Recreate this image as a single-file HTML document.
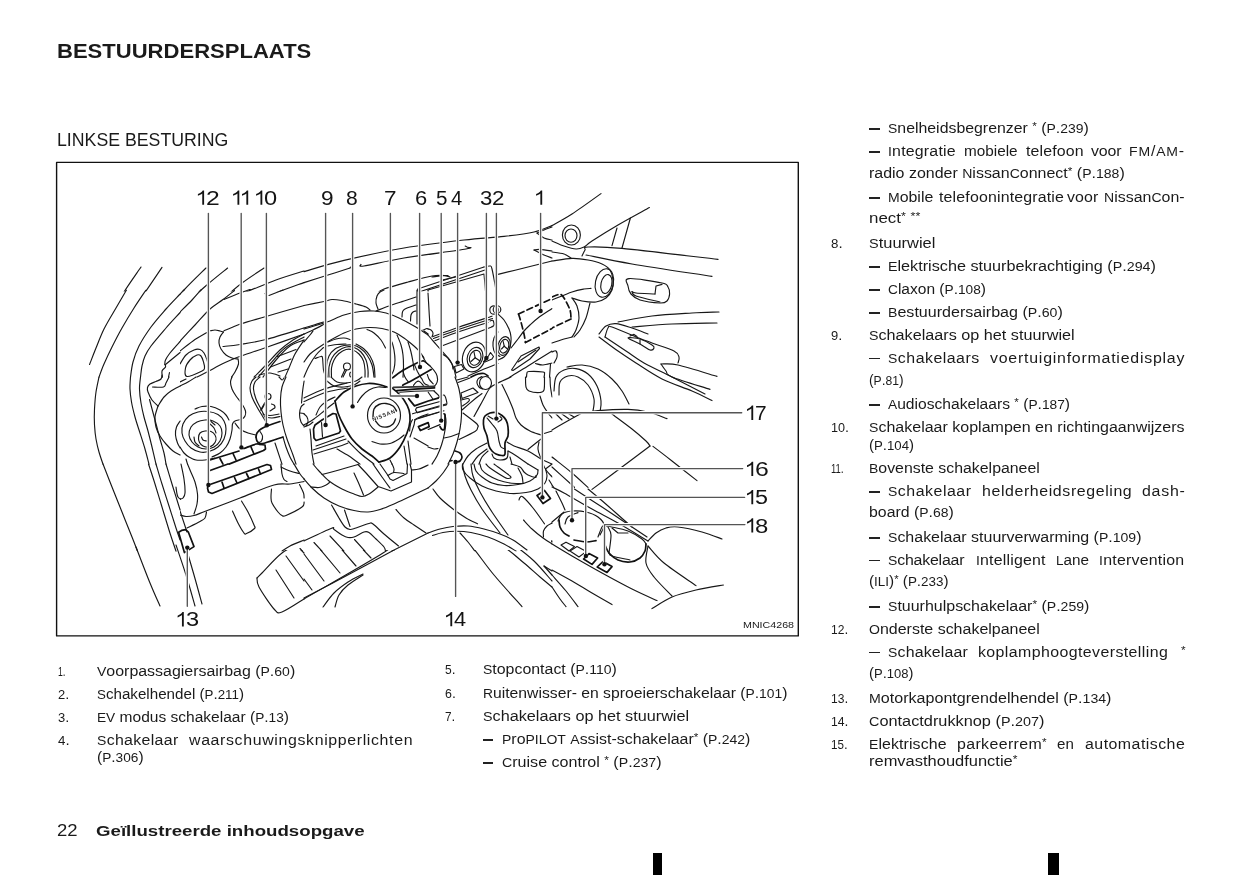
<!DOCTYPE html>
<html><head><meta charset="utf-8"><title>Bestuurdersplaats</title>
<style>
html,body{margin:0;padding:0;background:#fff}
body{width:1241px;height:875px;position:relative;overflow:hidden;font-family:"Liberation Sans", sans-serif;color:#1a1a1a}
.t{position:absolute;white-space:pre;line-height:1;transform-origin:0 0}
.a{font-size:.74em;position:relative;top:-.26em}
.c{font-size:.88em}
.d{position:absolute;width:10.6px;height:1.25px;background:#222}
.mk{position:absolute;background:#000}
#art{position:absolute;left:0;top:0}
#w{position:absolute;left:0;top:0;width:1241px;height:875px;will-change:transform}
</style></head><body>
<svg id="art" width="1241" height="875" viewBox="0 0 1241 875" stroke-linecap="round" stroke-linejoin="round">
<defs>
<clipPath id="ct"><path d="M57,163H798V635.5H552V291.5H57Z"/></clipPath>
<clipPath id="co"><path clip-rule="evenodd" d="M57,289.5H798V635.5H57Z M181,289.5V550H551V289.5Z"/></clipPath>
<clipPath id="cc"><rect x="180" y="289" width="372.5" height="262.5"/></clipPath>
</defs>
<g clip-path="url(#ct)">
<path d="M141.0,267.0 C138.2,271.2 129.2,283.8 124.0,292.0 C118.8,300.2 113.9,308.5 110.0,316.0 C106.1,323.5 102.0,333.5 100.4,337.0" fill="none" stroke="#181818" stroke-width="1.15"/>
<path d="M162.0,267.4 C159.0,271.8 149.7,285.6 144.0,294.0 C138.3,302.4 132.7,310.8 128.0,318.0 C123.3,325.2 118.0,333.8 116.0,337.0" fill="none" stroke="#181818" stroke-width="1.15"/>
<path d="M206.0,268.0 C202.3,271.7 191.3,282.3 184.0,290.0 C176.7,297.7 168.5,306.2 162.0,314.0 C155.5,321.8 147.8,333.2 145.0,337.0" fill="none" stroke="#181818" stroke-width="1.15"/>
<path d="M227.6,268.0 C224.3,270.7 215.3,277.7 208.0,284.0 C200.7,290.3 190.7,299.3 184.0,306.0 C177.3,312.7 172.3,318.8 168.0,324.0 C163.7,329.2 159.7,334.8 158.0,337.0" fill="none" stroke="#181818" stroke-width="1.15"/>
<path d="M264.0,268.0 C260.3,270.5 248.7,278.0 242.0,283.0 C235.3,288.0 229.0,294.0 224.0,298.0 C219.0,302.0 216.7,303.0 212.0,307.0 C207.3,311.0 200.7,317.0 196.0,322.0 C191.3,327.0 186.0,334.5 184.0,337.0" fill="none" stroke="#181818" stroke-width="1.15"/>
<path d="M223.6,299.6 C227.3,298.3 237.3,295.3 246.0,292.0 C254.7,288.7 266.3,283.5 276.0,280.0 C285.7,276.5 299.3,272.5 304.0,271.0" fill="none" stroke="#181818" stroke-width="1.15"/>
<path d="M265.0,294.0 L268.4,295.6" fill="none" stroke="#181818" stroke-width="1.15"/>
<path d="M268.4,295.6 C271.3,294.5 280.1,291.2 286.0,289.0 C291.9,286.8 301.0,283.7 304.0,282.6" fill="none" stroke="#181818" stroke-width="1.15"/>
<path d="M304.0,271.6 C310.7,269.7 327.3,264.3 344.0,260.4 C360.7,256.5 384.0,251.4 404.0,248.0 C424.0,244.6 447.3,241.9 464.0,240.0 C480.7,238.1 492.3,237.7 504.0,236.4 C515.7,235.1 526.0,233.8 534.0,232.0 C542.0,230.2 549.0,226.7 552.0,225.6" fill="none" stroke="#181818" stroke-width="1.15"/>
<path d="M304.0,282.6 C308.0,281.3 320.3,277.4 328.0,275.0 C335.7,272.6 346.3,269.2 350.0,268.0" fill="none" stroke="#181818" stroke-width="1.15"/>
<path d="M350.0,268.0 L351.0,266.8" fill="none" stroke="#181818" stroke-width="1.15"/>
<path d="M361.0,264.4 C361.5,264.7 356.8,267.1 364.0,266.0 C371.2,264.9 387.0,260.8 404.0,258.0 C421.0,255.2 455.5,250.8 466.0,249.0 C476.5,247.2 467.3,247.7 467.2,247.2 C467.1,246.7 465.5,246.2 465.2,246.0" fill="none" stroke="#181818" stroke-width="1.15"/>
<path d="M378.0,309.0 C377.7,307.5 376.0,302.7 376.0,300.0 C376.0,297.3 376.7,294.8 378.0,293.0 C379.3,291.2 379.0,290.8 384.0,289.0 C389.0,287.2 400.0,284.2 408.0,282.0 C416.0,279.8 425.3,277.1 432.0,276.0 C438.7,274.9 445.3,275.7 448.0,275.6" fill="none" stroke="#181818" stroke-width="1.15"/>
<path d="M417.0,328.0 L417.6,289.0 L484.0,267.0" fill="none" stroke="#181818" stroke-width="1.15"/>
<path d="M484.0,267.0 C485.0,266.8 488.7,265.7 490.0,266.0 C491.3,266.3 491.0,265.0 492.0,269.0 C493.0,273.0 494.8,283.3 496.0,290.0 C497.2,296.7 498.5,305.8 499.0,309.0" fill="none" stroke="#181818" stroke-width="1.15"/>
<path d="M419.0,292.0 L485.0,270.0" fill="none" stroke="#181818" stroke-width="1.15"/>
<path d="M428.0,290.0 L484.0,274.0 L487.0,308.0" fill="none" stroke="#181818" stroke-width="1.15"/>
<path d="M428.0,290.0 L431.0,327.0" fill="none" stroke="#181818" stroke-width="1.15"/>
<path d="M498.0,274.4 C502.3,273.3 515.0,270.2 524.0,268.0 C533.0,265.8 547.3,262.2 552.0,261.0" fill="none" stroke="#181818" stroke-width="1.15"/>
<path d="M534.0,250.0 C535.7,250.8 541.0,253.7 544.0,255.0 C547.0,256.3 550.7,257.5 552.0,258.0" fill="none" stroke="#181818" stroke-width="1.15"/>
<path d="M534.0,250.0 C535.0,249.9 537.0,249.2 540.0,249.4 C543.0,249.6 550.0,250.7 552.0,251.0" fill="none" stroke="#181818" stroke-width="1.15"/>
<path d="M537.0,233.0 C538.2,232.5 541.5,231.0 544.0,230.0 C546.5,229.0 550.7,227.5 552.0,227.0" fill="none" stroke="#181818" stroke-width="1.15"/>
<path d="M537.0,233.0 C538.2,233.8 541.5,236.8 544.0,238.0 C546.5,239.2 550.7,239.7 552.0,240.0" fill="none" stroke="#181818" stroke-width="1.15"/>
<path d="M432.0,277.0 C434.0,276.8 441.0,275.6 444.0,275.6 C447.0,275.6 449.0,276.8 450.0,277.0" fill="none" stroke="#181818" stroke-width="1.15"/>
<path d="M442.0,280.0 L456.0,277.0" fill="none" stroke="#181818" stroke-width="1.15"/>
<path d="M552.0,225.6 C555.3,223.7 563.8,219.3 572.0,214.0 C580.2,208.7 596.2,197.0 601.0,193.6" fill="none" stroke="#181818" stroke-width="1.15"/>
<path d="M552.0,241.0 C554.0,241.8 560.0,244.7 564.0,246.0 C568.0,247.3 572.7,248.8 576.0,249.0 C579.3,249.2 581.3,248.3 584.0,247.0 C586.7,245.7 586.3,244.7 592.0,241.0 C597.7,237.3 608.4,230.6 618.0,225.0 C627.6,219.4 644.2,210.5 649.4,207.6" fill="none" stroke="#181818" stroke-width="1.15"/>
<ellipse cx="571.4" cy="235.0" rx="9.0" ry="10.0" fill="none" stroke="#181818" stroke-width="1.15"/>
<ellipse cx="571.0" cy="235.6" rx="6.0" ry="6.6" fill="none" stroke="#181818" stroke-width="1.15"/>
<path d="M612.0,245.6 L617.0,228.0" fill="none" stroke="#181818" stroke-width="1.15"/>
<path d="M622.0,248.0 L630.4,218.0" fill="none" stroke="#181818" stroke-width="1.15"/>
<path d="M582.0,256.0 C582.5,255.0 584.0,251.5 585.0,250.0 C586.0,248.5 581.8,247.3 588.0,247.0 C594.2,246.7 600.3,246.3 622.0,248.4 C643.7,250.5 702.0,257.6 718.0,259.4" fill="none" stroke="#181818" stroke-width="1.15"/>
<path d="M586.0,255.0 C593.7,256.5 611.0,260.4 632.0,264.0 C653.0,267.6 698.7,274.3 712.0,276.4" fill="none" stroke="#181818" stroke-width="1.15"/>
<path d="M552.0,252.0 C554.0,252.3 560.8,253.0 564.0,254.0 C567.2,255.0 569.8,257.3 571.0,258.0" fill="none" stroke="#181818" stroke-width="1.15"/>
<path d="M552.0,261.0 C555.3,260.6 566.0,258.6 572.0,258.4 C578.0,258.2 583.0,259.1 588.0,260.0 C593.0,260.9 598.3,262.3 602.0,264.0 C605.7,265.7 608.2,267.3 610.0,270.0 C611.8,272.7 612.7,276.7 613.0,280.0 C613.3,283.3 613.2,287.0 612.0,290.0 C610.8,293.0 608.7,296.0 606.0,298.0 C603.3,300.0 600.0,301.5 596.0,302.0 C592.0,302.5 586.0,301.7 582.0,301.0 C578.0,300.3 573.7,298.5 572.0,298.0" fill="none" stroke="#181818" stroke-width="1.15"/>
<path d="M552.0,300.0 C555.3,298.7 566.7,293.8 572.0,292.0 C577.3,290.2 580.8,289.6 584.0,289.0 C587.2,288.4 589.8,288.5 591.0,288.4" fill="none" stroke="#181818" stroke-width="1.15"/>
<ellipse cx="604.4" cy="283.0" rx="9.0" ry="14.4" fill="none" stroke="#181818" stroke-width="1.15" transform="rotate(12 604.4 283.0)"/>
<ellipse cx="606.4" cy="284.0" rx="5.4" ry="9.6" fill="none" stroke="#181818" stroke-width="1.15" transform="rotate(12 606.4 284.0)"/>
<path d="M629.0,278.6 C634.7,278.1 655.5,281.6 662.0,283.0 C668.5,284.4 666.7,285.2 668.0,287.0 C669.3,288.8 669.8,291.7 669.6,294.0 C669.4,296.3 668.6,299.5 667.0,301.0 C665.4,302.5 664.5,303.2 660.0,303.0 C655.5,302.8 644.8,301.5 640.0,300.0 C635.2,298.5 633.0,296.3 631.0,294.0 C629.0,291.7 628.3,288.6 628.0,286.0 C627.7,283.4 623.3,279.1 629.0,278.6Z" fill="none" stroke="#181818" stroke-width="1.15"/>
<path d="M632.0,291.6 C632.7,291.8 632.2,292.6 636.0,293.0 C639.8,293.4 651.8,293.8 655.0,294.0" fill="none" stroke="#181818" stroke-width="1.15"/>
<path d="M655.0,294.0 L656.0,286.0 L662.0,284.4" fill="none" stroke="#181818" stroke-width="1.15"/>
<path d="M632.0,291.6 C632.7,292.3 631.3,294.3 636.0,296.0 C640.7,297.7 656.0,301.0 660.0,302.0" fill="none" stroke="#181818" stroke-width="1.15"/>
<path d="M552.0,297.0 C553.3,296.6 558.0,294.2 560.0,294.4 C562.0,294.6 562.3,295.4 564.0,298.0 C565.7,300.6 568.8,306.5 570.0,310.0 C571.2,313.5 570.8,317.5 571.0,319.0" fill="none" stroke="#111" stroke-width="1.7" stroke-dasharray="6 3.4"/>
<path d="M571.0,319.0 L552.0,328.0" fill="none" stroke="#111" stroke-width="1.7" stroke-dasharray="6 3.4"/>
<path d="M572.0,298.0 C572.8,299.3 575.8,302.7 577.0,306.0 C578.2,309.3 579.2,314.0 579.0,318.0 C578.8,322.0 577.2,326.8 576.0,330.0 C574.8,333.2 572.7,335.8 572.0,337.0" fill="none" stroke="#181818" stroke-width="1.15"/>
<path d="M590.0,303.0 C589.3,305.5 587.7,313.5 586.0,318.0 C584.3,322.5 582.0,326.8 580.0,330.0 C578.0,333.2 575.0,335.8 574.0,337.0" fill="none" stroke="#181818" stroke-width="1.15"/>
<path d="M618.0,322.0 C623.7,321.0 639.7,317.5 652.0,316.0 C664.3,314.5 680.8,313.7 692.0,313.0 C703.2,312.3 714.5,312.2 719.0,312.0" fill="none" stroke="#181818" stroke-width="1.15"/>
<path d="M632.0,327.0 C638.7,326.5 657.8,324.7 672.0,324.0 C686.2,323.3 709.5,323.2 717.0,323.0" fill="none" stroke="#181818" stroke-width="1.15"/>
<path d="M599.0,334.0 C600.2,332.7 603.2,327.7 606.0,326.0 C608.8,324.3 611.7,323.3 616.0,323.6 C620.3,323.9 626.7,326.3 632.0,328.0 C637.3,329.7 645.3,333.0 648.0,334.0" fill="none" stroke="#181818" stroke-width="1.15"/>
<path d="M605.0,337.0 C605.5,335.5 606.8,329.7 608.0,328.0 C609.2,326.3 607.3,325.5 612.0,327.0 C616.7,328.5 632.0,335.3 636.0,337.0" fill="none" stroke="#181818" stroke-width="1.15"/>
<path d="M630.0,336.0 L634.0,334.4 L637.0,336.4" fill="none" stroke="#181818" stroke-width="1.15"/>
</g>
<g clip-path="url(#co)">
<path d="M599.0,337.0 C602.2,339.3 611.8,346.7 618.0,351.0 C624.2,355.3 628.7,358.3 636.0,363.0 C643.3,367.7 652.7,374.3 662.0,379.0 C671.3,383.7 683.7,387.4 692.0,391.0 C700.3,394.6 708.7,399.0 712.0,400.6" fill="none" stroke="#181818" stroke-width="1.15"/>
<path d="M605.0,337.0 C608.5,339.3 619.5,346.7 626.0,351.0 C632.5,355.3 636.3,358.7 644.0,363.0 C651.7,367.3 661.8,371.8 672.0,377.0 C682.2,382.2 699.5,391.2 705.0,394.0" fill="none" stroke="#181818" stroke-width="1.15"/>
<path d="M636.0,337.0 C638.7,338.0 645.7,340.7 652.0,343.0 C658.3,345.3 669.5,348.7 674.0,351.0 C678.5,353.3 678.3,355.0 679.0,357.0 C679.7,359.0 678.2,362.0 678.0,363.0" fill="none" stroke="#181818" stroke-width="1.15"/>
<path d="M628.0,338.0 C628.0,338.8 636.3,342.0 640.0,344.0 C643.7,346.0 647.7,349.3 650.0,350.0 C652.3,350.7 653.7,348.8 654.0,348.0 C654.3,347.2 654.3,346.5 652.0,345.0 C649.7,343.5 644.0,340.2 640.0,339.0 C636.0,337.8 628.0,337.2 628.0,338.0Z" fill="none" stroke="#181818" stroke-width="1.15"/>
<path d="M640.0,340.0 L640.0,344.0" fill="none" stroke="#181818" stroke-width="1.15"/>
<path d="M661.0,364.0 C663.8,364.2 668.7,362.9 678.0,365.0 C687.3,367.1 710.5,374.5 717.0,376.4" fill="none" stroke="#181818" stroke-width="1.15"/>
<path d="M661.0,364.0 C661.8,365.2 664.2,368.8 666.0,371.0 C667.8,373.2 664.7,373.9 672.0,377.0 C679.3,380.1 703.7,387.3 710.0,389.4" fill="none" stroke="#181818" stroke-width="1.15"/>
<path d="M567.0,367.0 C569.5,366.7 576.8,364.7 582.0,365.0 C587.2,365.3 593.0,366.7 598.0,369.0 C603.0,371.3 608.0,375.3 612.0,379.0 C616.0,382.7 619.2,386.8 622.0,391.0 C624.8,395.2 627.8,401.8 629.0,404.0" fill="none" stroke="#181818" stroke-width="1.15"/>
<path d="M554.0,391.0 C554.3,388.7 554.3,380.5 556.0,377.0 C557.7,373.5 560.7,371.4 564.0,370.0 C567.3,368.6 572.0,367.9 576.0,368.6 C580.0,369.3 584.5,371.1 588.0,374.0 C591.5,376.9 594.8,381.5 597.0,386.0 C599.2,390.5 600.5,396.7 601.0,401.0 C601.5,405.3 600.2,410.2 600.0,412.0" fill="none" stroke="#181818" stroke-width="1.15"/>
<path d="M559.0,395.0 C559.2,392.8 558.5,385.2 560.0,382.0 C561.5,378.8 565.0,376.8 568.0,376.0 C571.0,375.2 574.7,375.5 578.0,377.0 C581.3,378.5 585.3,381.3 588.0,385.0 C590.7,388.7 593.2,394.7 594.0,399.0 C594.8,403.3 593.2,409.0 593.0,411.0" fill="none" stroke="#181818" stroke-width="1.15"/>
<path d="M552.0,413.0 C557.0,413.0 574.3,413.4 582.0,413.0 C589.7,412.6 590.3,411.2 598.0,410.6 C605.7,410.0 619.7,409.2 628.0,409.4 C636.3,409.6 641.5,410.5 648.0,412.0 C654.5,413.5 663.8,417.5 667.0,418.6" fill="none" stroke="#181818" stroke-width="1.15"/>
<path d="M582.0,413.0 C579.0,414.7 569.0,420.2 564.0,423.0 C559.0,425.8 554.0,428.8 552.0,430.0" fill="none" stroke="#181818" stroke-width="1.15"/>
<path d="M612.0,414.0 C615.3,416.5 626.3,424.5 632.0,429.0 C637.7,433.5 643.0,438.2 646.0,441.0 C649.0,443.8 649.3,445.2 650.0,446.0" fill="none" stroke="#181818" stroke-width="1.15"/>
<path d="M653.0,446.4 C656.2,448.8 664.7,455.3 672.0,461.0 C679.3,466.7 692.8,477.3 697.0,480.6" fill="none" stroke="#181818" stroke-width="1.15"/>
<path d="M650.0,446.0 C645.3,449.5 631.7,459.8 622.0,467.0 C612.3,474.2 597.0,485.7 592.0,489.4" fill="none" stroke="#181818" stroke-width="1.15"/>
<path d="M552.0,457.0 C555.3,459.7 566.0,467.9 572.0,473.0 C578.0,478.1 585.3,485.0 588.0,487.4" fill="none" stroke="#181818" stroke-width="1.15"/>
<path d="M552.0,467.0 C555.3,470.0 568.3,481.6 572.0,485.0 C575.7,488.4 574.0,487.0 574.4,487.4" fill="none" stroke="#181818" stroke-width="1.15"/>
<path d="M552.0,485.0 L553.6,487.4" fill="none" stroke="#181818" stroke-width="1.15"/>
<path d="M552.0,352.0 C552.7,351.8 555.2,350.2 556.0,351.0 C556.8,351.8 557.3,355.0 557.0,357.0 C556.7,359.0 554.5,362.0 554.0,363.0" fill="none" stroke="#181818" stroke-width="1.15"/>
<path d="M552.0,343.0 C554.0,342.3 560.7,340.0 564.0,339.0 C567.3,338.0 570.7,337.3 572.0,337.0" fill="none" stroke="#181818" stroke-width="1.15"/>
<path d="M556.0,414.0 L562.0,420.0" fill="none" stroke="#181818" stroke-width="1.15"/>
<path d="M562.0,414.0 L569.0,419.0" fill="none" stroke="#181818" stroke-width="1.15"/>
<path d="M569.0,414.0 L574.0,417.0" fill="none" stroke="#181818" stroke-width="1.15"/>
<path d="M136.0,547.0 C138.3,553.0 146.0,573.2 150.0,583.0 C154.0,592.8 158.3,602.2 160.0,606.0" fill="none" stroke="#181818" stroke-width="1.15"/>
<path d="M176.0,545.0 C177.7,550.0 182.8,564.8 186.0,575.0 C189.2,585.2 193.5,600.8 195.0,606.0" fill="none" stroke="#181818" stroke-width="1.15"/>
<path d="M184.0,541.0 C185.7,546.7 191.0,564.5 194.0,575.0 C197.0,585.5 200.7,599.2 202.0,604.0" fill="none" stroke="#181818" stroke-width="1.15"/>
<path d="M186.0,527.0 C189.3,525.3 194.3,522.3 206.0,517.0 C217.7,511.7 245.0,499.8 256.0,495.0 C267.0,490.2 269.3,489.2 272.0,488.0" fill="none" stroke="#181818" stroke-width="1.15"/>
<path d="M196.0,487.0 C196.0,489.7 196.7,498.7 196.0,503.0 C195.3,507.3 194.0,510.7 192.0,513.0 C190.0,515.3 185.3,516.3 184.0,517.0" fill="none" stroke="#181818" stroke-width="1.15"/>
<path d="M184.0,517.0 C186.0,517.2 192.7,518.3 196.0,518.0 C199.3,517.7 202.5,516.2 204.0,515.0 C205.5,513.8 204.8,511.7 205.0,511.0" fill="none" stroke="#181818" stroke-width="1.15"/>
<path d="M176.0,487.0 C176.3,488.7 176.7,495.0 178.0,497.0 C179.3,499.0 182.7,500.7 184.0,499.0 C185.3,497.3 185.7,489.0 186.0,487.0" fill="none" stroke="#181818" stroke-width="1.15"/>
<path d="M233.0,511.0 C234.8,514.5 241.5,528.3 244.0,532.0 C246.5,535.7 246.2,534.4 248.0,533.4 C249.8,532.4 256.0,531.4 255.0,526.0 C254.0,520.6 244.2,505.2 242.0,501.0" fill="none" stroke="#181818" stroke-width="1.15"/>
<path d="M271.0,487.0 C271.2,489.0 270.2,494.7 272.0,499.0 C273.8,503.3 279.0,510.3 282.0,513.0 C285.0,515.7 286.3,516.0 290.0,515.0 C293.7,514.0 301.7,508.3 304.0,507.0" fill="none" stroke="#181818" stroke-width="1.15"/>
<path d="M257.0,578.0 C257.8,577.2 257.8,577.2 262.0,573.0 C266.2,568.8 275.0,558.3 282.0,553.0 C289.0,547.7 300.3,543.0 304.0,541.0" fill="none" stroke="#181818" stroke-width="1.15"/>
<path d="M257.0,578.0 C257.3,579.5 256.2,581.8 259.0,587.0 C261.8,592.2 270.2,604.8 274.0,609.0 C277.8,613.2 277.0,613.7 282.0,612.0 C287.0,610.3 300.3,601.2 304.0,599.0" fill="none" stroke="#181818" stroke-width="1.15"/>
<path d="M276.0,570.0 L294.0,598.0" fill="none" stroke="#181818" stroke-width="1.15"/>
<path d="M286.0,556.0 L304.0,581.0" fill="none" stroke="#181818" stroke-width="1.15"/>
<path d="M299.0,548.0 L304.0,553.0" fill="none" stroke="#181818" stroke-width="1.15"/>
<path d="M304.0,541.0 C308.7,538.9 326.3,529.9 332.0,528.6 C337.7,527.3 335.3,531.7 338.0,533.4 C340.7,535.1 343.7,538.9 348.0,538.6 C352.3,538.3 359.3,532.1 364.0,531.8 C368.7,531.5 372.5,534.5 376.0,537.0 C379.5,539.5 383.8,544.3 385.0,547.0 C386.2,549.7 396.5,544.3 383.0,553.0 C369.5,561.7 317.2,591.3 304.0,599.0" fill="none" stroke="#181818" stroke-width="1.15"/>
<path d="M338.0,534.0 C339.0,533.0 339.0,529.8 344.0,528.0 C349.0,526.2 363.0,523.5 368.0,523.0 C373.0,522.5 369.0,521.2 374.0,525.0 C379.0,528.8 394.0,542.5 398.0,546.0" fill="none" stroke="#181818" stroke-width="1.15"/>
<path d="M304.0,554.0 L324.0,581.0" fill="none" stroke="#181818" stroke-width="1.15"/>
<path d="M314.0,542.0 L340.0,573.0" fill="none" stroke="#181818" stroke-width="1.15"/>
<path d="M330.0,536.0 L356.0,566.0" fill="none" stroke="#181818" stroke-width="1.15"/>
<path d="M354.0,540.0 L371.0,558.0" fill="none" stroke="#181818" stroke-width="1.15"/>
<path d="M304.0,579.0 L312.0,590.0" fill="none" stroke="#181818" stroke-width="1.15"/>
<path d="M304.0,598.0 C310.7,594.5 329.3,584.8 344.0,577.0 C358.7,569.2 378.9,558.2 392.2,551.0 C405.5,543.8 415.4,538.0 424.0,534.0 C432.6,530.0 438.0,528.3 444.0,527.0 C450.0,525.7 454.0,525.7 460.0,526.0 C466.0,526.3 474.0,527.7 480.0,529.0 C486.0,530.3 490.3,531.3 496.0,534.0 C501.7,536.7 507.7,540.5 514.0,545.0 C520.3,549.5 527.7,555.0 534.0,561.0 C540.3,567.0 549.0,577.7 552.0,581.0" fill="none" stroke="#181818" stroke-width="1.15"/>
<path d="M432.0,535.0 C434.7,534.3 442.7,531.5 448.0,531.0 C453.3,530.5 458.0,531.0 464.0,532.0 C470.0,533.0 477.3,534.5 484.0,537.0 C490.7,539.5 497.3,542.7 504.0,547.0 C510.7,551.3 518.0,558.0 524.0,563.0 C530.0,568.0 535.3,573.0 540.0,577.0 C544.7,581.0 550.0,585.3 552.0,587.0" fill="none" stroke="#181818" stroke-width="1.15"/>
<path d="M460.0,533.0 C462.3,535.7 468.3,542.0 474.0,549.0 C479.7,556.0 486.0,565.4 494.0,575.0 C502.0,584.6 517.3,601.3 522.0,606.6" fill="none" stroke="#181818" stroke-width="1.15"/>
<path d="M323.0,607.0 C324.8,604.7 329.8,597.2 334.0,593.0 C338.2,588.8 343.2,585.2 348.0,582.0 C352.8,578.8 360.5,575.3 363.0,574.0" fill="none" stroke="#181818" stroke-width="1.15"/>
<path d="M335.0,607.0 C335.7,605.0 336.8,598.7 339.0,595.0 C341.2,591.3 344.0,588.3 348.0,585.0 C352.0,581.7 360.5,576.7 363.0,575.0" fill="none" stroke="#181818" stroke-width="1.15"/>
<path d="M470.0,487.0 C472.3,490.7 478.8,501.3 484.0,509.0 C489.2,516.7 498.2,529.0 501.0,533.0" fill="none" stroke="#181818" stroke-width="1.15"/>
<path d="M476.0,487.0 C478.3,491.0 484.8,503.0 490.0,511.0 C495.2,519.0 504.2,531.0 507.0,535.0" fill="none" stroke="#181818" stroke-width="1.15"/>
<path d="M519.0,499.0 C519.5,498.5 520.2,495.3 522.0,496.0 C523.8,496.7 526.3,498.3 530.0,503.0 C533.7,507.7 541.7,520.5 544.0,524.0" fill="none" stroke="#181818" stroke-width="1.15"/>
<path d="M523.0,520.0 C524.5,521.2 528.5,524.2 532.0,527.0 C535.5,529.8 540.7,534.5 544.0,537.0 C547.3,539.5 550.7,541.2 552.0,542.0" fill="none" stroke="#181818" stroke-width="1.15"/>
<path d="M552.0,523.0 C551.0,523.7 547.3,525.3 546.0,527.0 C544.7,528.7 543.8,531.0 544.0,533.0 C544.2,535.0 545.7,537.7 547.0,539.0 C548.3,540.3 551.2,540.7 552.0,541.0" fill="none" stroke="#181818" stroke-width="1.15"/>
<path d="M544.0,566.0 L552.0,571.0" fill="none" stroke="#181818" stroke-width="1.15"/>
<path d="M544.0,566.0 L552.0,575.0" fill="none" stroke="#181818" stroke-width="1.15"/>
<path d="M559.0,520.0 C559.2,521.2 559.2,524.8 560.0,527.0 C560.8,529.2 562.5,531.5 564.0,533.0 C565.5,534.5 568.2,535.5 569.0,536.0" fill="none" stroke="#111" stroke-width="1.7"/>
<path d="M574.0,540.0 C576.0,540.3 582.3,541.9 586.0,542.0 C589.7,542.1 594.3,540.8 596.0,540.6" fill="none" stroke="#111" stroke-width="1.7"/>
<path d="M558.0,521.0 C558.7,519.8 559.7,515.7 562.0,514.0 C564.3,512.3 568.0,511.3 572.0,511.0 C576.0,510.7 581.7,511.0 586.0,512.0 C590.3,513.0 595.0,514.8 598.0,517.0 C601.0,519.2 603.7,522.0 604.0,525.0 C604.3,528.0 600.7,533.3 600.0,535.0" fill="none" stroke="#181818" stroke-width="1.15"/>
<path d="M565.0,524.0 C565.5,522.8 565.8,518.9 568.0,517.0 C570.2,515.1 576.3,513.3 578.0,512.6" fill="none" stroke="#181818" stroke-width="1.15"/>
<path d="M605.0,526.0 C606.2,526.2 608.2,526.2 612.0,527.0 C615.8,527.8 623.0,529.0 628.0,531.0 C633.0,533.0 639.0,536.8 642.0,539.0 C645.0,541.2 645.3,543.2 646.0,544.0" fill="none" stroke="#181818" stroke-width="1.15"/>
<path d="M646.0,544.0 C645.8,545.2 646.0,548.7 645.0,551.0 C644.0,553.3 642.5,556.2 640.0,558.0 C637.5,559.8 633.7,561.7 630.0,562.0 C626.3,562.3 621.5,561.5 618.0,560.0 C614.5,558.5 611.2,555.5 609.0,553.0 C606.8,550.5 605.7,546.3 605.0,545.0" fill="none" stroke="#111" stroke-width="1.7"/>
<path d="M609.0,553.0 C609.5,553.5 608.5,554.8 612.0,556.0 C615.5,557.2 627.0,559.3 630.0,560.0" fill="none" stroke="#181818" stroke-width="1.15"/>
<path d="M561.0,545.0 L566.0,542.2 L574.4,546.6 L569.0,551.0Z" fill="none" stroke="#181818" stroke-width="1.15"/>
<path d="M570.0,551.0 L577.0,546.6 L586.4,551.4 L579.0,557.0Z" fill="none" stroke="#181818" stroke-width="1.15"/>
<path d="M583.6,559.0 L589.0,553.6 L597.6,558.0 L592.0,564.4Z" fill="none" stroke="#111" stroke-width="1.7"/>
<path d="M597.2,567.0 L603.0,561.6 L612.0,566.6 L607.0,572.4Z" fill="none" stroke="#111" stroke-width="1.7"/>
<path d="M552.0,544.0 C555.3,546.0 563.7,551.2 572.0,556.0 C580.3,560.8 592.0,567.5 602.0,573.0 C612.0,578.5 622.8,584.4 632.0,589.0 C641.2,593.6 652.8,598.7 657.0,600.6" fill="none" stroke="#181818" stroke-width="1.15"/>
<path d="M552.0,522.0 C553.0,521.2 556.0,518.7 558.0,517.0 C560.0,515.3 563.0,512.8 564.0,512.0" fill="none" stroke="#181818" stroke-width="1.15"/>
<path d="M552.0,570.0 C555.3,571.8 565.3,577.2 572.0,581.0 C578.7,584.8 585.3,589.1 592.0,593.0 C598.7,596.9 608.7,602.7 612.0,604.6" fill="none" stroke="#181818" stroke-width="1.15"/>
<path d="M552.0,575.0 C554.3,577.7 561.7,585.7 566.0,591.0 C570.3,596.3 576.0,604.0 578.0,606.6" fill="none" stroke="#181818" stroke-width="1.15"/>
<path d="M552.0,587.0 C553.3,589.0 557.7,595.7 560.0,599.0 C562.3,602.3 565.0,605.3 566.0,606.6" fill="none" stroke="#181818" stroke-width="1.15"/>
<path d="M652.0,608.6 C655.3,606.7 664.7,600.1 672.0,597.0 C679.3,593.9 687.4,592.0 696.0,590.0 C704.6,588.0 718.8,585.8 723.4,585.0" fill="none" stroke="#181818" stroke-width="1.15"/>
<path d="M648.0,546.0 C647.7,548.8 645.0,557.8 646.0,563.0 C647.0,568.2 649.7,571.5 654.0,577.0 C658.3,582.5 669.0,592.8 672.0,596.0" fill="none" stroke="#181818" stroke-width="1.15"/>
<path d="M648.0,546.0 C650.7,548.8 656.0,556.4 664.0,563.0 C672.0,569.6 690.7,581.8 696.0,585.6" fill="none" stroke="#181818" stroke-width="1.15"/>
<path d="M648.0,541.0 C649.3,539.7 653.0,535.2 656.0,533.0 C659.0,530.8 662.3,529.0 666.0,528.0 C669.7,527.0 672.0,526.3 678.0,527.0 C684.0,527.7 694.7,530.0 702.0,532.0 C709.3,534.0 718.7,537.8 722.0,539.0" fill="none" stroke="#181818" stroke-width="1.15"/>
<path d="M552.0,487.0 C554.0,488.0 557.3,489.3 564.0,493.0 C570.7,496.7 583.0,504.0 592.0,509.0 C601.0,514.0 608.7,517.7 618.0,523.0 C627.3,528.3 643.0,538.0 648.0,541.0" fill="none" stroke="#181818" stroke-width="1.15"/>
<path d="M574.4,489.0 C579.0,492.0 592.4,500.7 602.0,507.0 C611.6,513.3 624.5,522.0 632.0,527.0 C639.5,532.0 644.5,535.3 647.0,537.0" fill="none" stroke="#181818" stroke-width="1.15"/>
<path d="M588.0,489.0 C590.0,490.7 595.3,495.0 600.0,499.0 C604.7,503.0 610.7,508.3 616.0,513.0 C621.3,517.7 629.3,524.7 632.0,527.0" fill="none" stroke="#181818" stroke-width="1.15"/>
<path d="M598.0,537.0 C598.7,535.3 600.8,529.0 602.0,527.0 C603.2,525.0 604.5,525.3 605.0,525.0" fill="none" stroke="#181818" stroke-width="1.15"/>
<path d="M609.0,553.0 C609.3,550.0 611.2,539.3 611.0,535.0 C610.8,530.7 608.5,528.3 608.0,527.0" fill="none" stroke="#181818" stroke-width="1.15"/>
<path d="M556.0,491.0 C557.0,493.0 560.5,499.8 562.0,503.0 C563.5,506.2 564.5,508.8 565.0,510.0" fill="none" stroke="#181818" stroke-width="1.15"/>
<path d="M612.0,528.0 L618.0,533.0 L628.0,533.0" fill="none" stroke="#181818" stroke-width="1.15"/>
<path d="M126.5,290.0 C124.8,293.0 119.8,301.5 116.0,308.0 C112.2,314.5 107.3,322.3 104.0,329.0 C100.7,335.7 98.4,342.1 96.0,348.0 C93.6,353.9 90.6,361.8 89.5,364.5" fill="none" stroke="#181818" stroke-width="1.15"/>
<path d="M146.0,290.0 C144.0,293.0 138.0,301.7 134.0,308.0 C130.0,314.3 125.7,321.5 122.0,328.0 C118.3,334.5 115.0,341.0 112.0,347.0 C109.0,353.0 106.2,359.0 104.0,364.0 C101.8,369.0 99.8,374.9 99.0,377.1" fill="none" stroke="#181818" stroke-width="1.15"/>
<path d="M180.1,294.0 C177.8,296.5 170.8,303.5 166.0,309.0 C161.2,314.5 155.5,320.8 151.0,327.0 C146.5,333.2 142.0,340.2 139.0,346.0 C136.0,351.8 134.4,356.8 133.0,362.0 C131.6,367.2 130.9,374.6 130.5,377.1" fill="none" stroke="#181818" stroke-width="1.15"/>
<path d="M180.1,312.5 C177.8,315.1 170.8,322.4 166.0,328.0 C161.2,333.6 154.5,341.3 151.0,346.0 C147.5,350.7 146.5,352.7 145.0,356.0 C143.5,359.3 142.8,362.5 142.0,366.0 C141.2,369.5 140.8,375.2 140.5,377.1" fill="none" stroke="#181818" stroke-width="1.15"/>
<path d="M99.0,377.0 C98.5,379.5 96.8,386.7 96.0,392.0 C95.2,397.3 94.8,403.5 94.5,409.0 C94.2,414.5 94.2,420.0 94.5,425.0 C94.8,430.0 95.2,434.5 96.0,439.0 C96.8,443.5 97.8,447.8 99.0,452.0 C100.2,456.2 102.3,462.1 103.0,464.1" fill="none" stroke="#181818" stroke-width="1.15"/>
<path d="M130.5,377.0 C130.4,379.0 129.8,384.8 130.0,389.0 C130.2,393.2 130.7,397.3 131.5,402.0 C132.3,406.7 133.6,411.8 135.0,417.0 C136.4,422.2 138.3,427.7 140.0,433.0 C141.7,438.3 143.5,443.8 145.0,449.0 C146.5,454.2 148.3,461.6 149.0,464.1" fill="none" stroke="#181818" stroke-width="1.15"/>
<path d="M140.5,377.0 C140.3,379.0 139.4,384.7 139.5,389.0 C139.6,393.3 140.2,398.3 141.0,403.0 C141.8,407.7 142.8,412.3 144.0,417.0 C145.2,421.7 146.7,426.0 148.0,431.0 C149.3,436.0 150.7,441.5 152.0,447.0 C153.3,452.5 155.3,461.2 156.0,464.1" fill="none" stroke="#181818" stroke-width="1.15"/>
<path d="M162.0,375.0 C161.8,375.7 162.0,377.9 161.0,379.0 C160.0,380.1 157.8,380.7 156.0,381.5 C154.2,382.3 151.4,383.0 150.0,384.0 C148.6,385.0 147.8,386.2 147.5,387.5 C147.2,388.8 147.2,389.9 148.0,392.0 C148.8,394.1 150.3,397.7 152.0,400.0 C153.7,402.3 157.0,405.0 158.0,406.0" fill="none" stroke="#181818" stroke-width="1.15"/>
<path d="M152.5,387.0 C154.3,387.0 161.2,387.7 163.5,387.0 C165.8,386.3 165.1,384.7 166.0,383.0 C166.9,381.3 168.5,378.0 169.0,377.0" fill="none" stroke="#181818" stroke-width="1.15"/>
<path d="M158.0,406.0 C159.0,404.5 161.8,399.5 164.0,397.0 C166.2,394.5 168.3,392.8 171.0,391.0 C173.7,389.2 178.6,386.8 180.1,386.0" fill="none" stroke="#181818" stroke-width="1.15"/>
<path d="M158.0,406.0 C157.5,407.8 155.3,413.5 155.0,417.0 C154.7,420.5 155.2,423.8 156.0,427.0 C156.8,430.2 158.3,433.2 160.0,436.0 C161.7,438.8 163.8,441.5 166.0,444.0 C168.2,446.5 170.7,449.2 173.0,451.0 C175.3,452.8 178.9,454.3 180.1,455.0" fill="none" stroke="#181818" stroke-width="1.15"/>
<path d="M149.5,399.5 C150.4,402.9 153.2,413.4 155.0,420.0 C156.8,426.6 158.5,433.5 160.0,439.0 C161.5,444.5 163.0,448.8 164.0,453.0 C165.0,457.2 165.7,462.2 166.0,464.1" fill="none" stroke="#181818" stroke-width="1.15"/>
<path d="M180.1,421.0 C179.5,422.0 177.3,424.7 176.5,427.0 C175.7,429.3 175.3,432.3 175.5,435.0 C175.7,437.7 176.7,440.8 177.5,443.0 C178.3,445.2 179.7,447.2 180.1,448.0" fill="none" stroke="#181818" stroke-width="1.15"/>
<path d="M180.1,341.5 C178.4,343.4 172.4,349.9 170.0,353.0 C167.6,356.1 166.4,358.1 165.5,360.0 C164.6,361.9 164.9,363.8 164.8,364.5" fill="none" stroke="#181818" stroke-width="1.15"/>
<path d="M165.5,364.5 L180.1,352.5" fill="none" stroke="#181818" stroke-width="1.15"/>
<path d="M165.0,364.5 C165.1,364.9 166.0,365.9 165.5,367.0 C165.0,368.1 162.5,369.3 162.0,371.0 C161.5,372.7 162.4,376.1 162.5,377.1" fill="none" stroke="#181818" stroke-width="1.15"/>
<path d="M169.5,372.5 L168.5,377.1" fill="none" stroke="#181818" stroke-width="1.15"/>
<path d="M103.0,464.0 C104.5,467.8 108.8,479.0 112.0,487.0 C115.2,495.0 118.7,503.7 122.0,512.0 C125.3,520.3 129.4,530.5 132.0,537.0 C134.6,543.5 136.6,548.8 137.5,551.1" fill="none" stroke="#181818" stroke-width="1.15"/>
<path d="M148.5,464.0 C149.6,467.3 152.8,476.8 155.0,484.0 C157.2,491.2 159.7,499.3 162.0,507.0 C164.3,514.7 166.7,522.6 169.0,530.0 C171.3,537.4 174.8,547.6 176.0,551.1" fill="none" stroke="#181818" stroke-width="1.15"/>
<path d="M156.0,464.0 C157.0,467.3 159.8,477.0 162.0,484.0 C164.2,491.0 166.7,498.7 169.0,506.0 C171.3,513.3 174.2,522.3 176.0,528.0 C177.8,533.7 179.4,538.0 180.1,540.0" fill="none" stroke="#181818" stroke-width="1.15"/>
<path d="M166.0,464.0 C167.0,467.3 170.2,478.0 172.0,484.0 C173.8,490.0 175.7,495.7 177.0,500.0 C178.3,504.3 179.6,508.3 180.1,510.0" fill="none" stroke="#181818" stroke-width="1.15"/>
</g>
<g clip-path="url(#cc)">
<path d="M180.0,312.0 C182.0,310.0 188.4,303.8 192.0,300.0 C195.6,296.2 199.8,291.2 201.4,289.5" fill="none" stroke="#181818" stroke-width="1.15"/>
<path d="M180.0,294.2 L184.4,289.6" fill="none" stroke="#181818" stroke-width="1.15"/>
<path d="M180.0,341.0 C182.5,338.3 190.0,330.3 195.0,325.0 C200.0,319.7 205.3,313.2 210.0,309.0 C214.7,304.8 218.9,302.6 223.0,299.5 C227.1,296.4 232.6,292.0 234.5,290.5" fill="none" stroke="#181818" stroke-width="1.15"/>
<path d="M224.0,299.5 C226.7,298.4 235.3,294.8 240.0,293.0 C244.7,291.2 250.0,289.5 252.0,288.8" fill="none" stroke="#181818" stroke-width="1.15"/>
<path d="M180.0,351.0 C182.2,349.3 188.5,344.1 193.0,341.0 C197.5,337.9 204.7,333.9 207.0,332.5" fill="none" stroke="#181818" stroke-width="1.15"/>
<path d="M210.0,330.8 C210.8,330.7 213.3,330.0 215.0,330.0 C216.7,330.0 218.6,330.7 220.0,331.0 C221.4,331.3 222.9,331.8 223.5,332.0" fill="none" stroke="#181818" stroke-width="1.15"/>
<path d="M224.0,330.8 C225.5,330.2 230.0,328.2 233.0,327.0 C236.0,325.8 236.5,325.2 242.0,323.5 C247.5,321.8 255.7,319.5 266.0,316.5 C276.4,313.5 297.8,307.3 304.1,305.5" fill="none" stroke="#181818" stroke-width="1.15"/>
<path d="M223.5,332.0 C222.9,332.8 220.8,335.2 220.0,337.0 C219.2,338.8 218.8,341.0 219.0,343.0 C219.2,345.0 219.8,347.0 221.0,349.0 C222.2,351.0 224.2,353.5 226.0,355.0 C227.8,356.5 230.0,357.3 232.0,358.0 C234.0,358.7 237.0,358.8 238.0,359.0" fill="none" stroke="#181818" stroke-width="1.15"/>
<path d="M233.0,359.0 C234.8,358.3 238.5,356.9 244.0,355.0 C249.5,353.1 256.0,351.0 266.0,347.5 C276.0,344.0 297.8,336.2 304.1,334.0" fill="none" stroke="#181818" stroke-width="1.15"/>
<path d="M223.0,346.5 C225.8,346.2 232.8,345.7 240.0,344.5 C247.2,343.3 255.3,342.2 266.0,339.5 C276.7,336.8 297.8,329.9 304.1,328.0" fill="none" stroke="#181818" stroke-width="1.15"/>
<path d="M238.0,359.0 C238.1,359.8 239.0,361.8 238.5,364.0 C238.0,366.2 236.2,369.8 235.0,372.0 C233.8,374.2 232.1,376.2 231.5,377.1" fill="none" stroke="#181818" stroke-width="1.15"/>
<path d="M197.0,377.1 C198.7,376.2 202.8,374.2 207.0,372.0 C211.2,369.8 217.7,366.2 222.0,364.0 C226.3,361.8 231.2,359.8 233.0,359.0" fill="none" stroke="#181818" stroke-width="1.15"/>
<path d="M180.0,364.0 C181.0,362.5 183.7,357.3 186.0,355.0 C188.3,352.7 191.7,350.9 194.0,350.0 C196.3,349.1 198.3,349.0 200.0,349.5 C201.7,350.0 202.8,351.2 204.0,353.0 C205.2,354.8 206.2,357.8 207.0,360.0 C207.8,362.2 208.2,365.0 208.5,366.0" fill="none" stroke="#181818" stroke-width="1.15"/>
<path d="M185.5,368.0 C186.0,365.2 188.1,362.2 190.0,360.0 C191.9,357.8 195.2,355.7 197.0,355.0 C198.8,354.3 199.9,354.8 201.0,356.0 C202.1,357.2 202.9,360.0 203.5,362.0 C204.1,364.0 204.8,366.5 204.5,368.0 C204.2,369.5 204.9,369.6 202.0,371.0 C199.1,372.4 189.8,377.0 187.0,376.5 C184.2,376.0 185.0,370.8 185.5,368.0Z" fill="none" stroke="#181818" stroke-width="1.15"/>
<path d="M269.0,295.5 L283.0,290.0" fill="none" stroke="#181818" stroke-width="1.15"/>
<path d="M265.0,293.5 L267.0,295.0" fill="none" stroke="#181818" stroke-width="1.15"/>
<path d="M254.0,377.1 C255.8,375.2 260.7,370.5 265.0,366.0 C269.3,361.5 275.3,354.3 280.0,350.0 C284.7,345.7 289.0,342.7 293.0,340.0 C297.0,337.3 302.2,335.0 304.1,334.0" fill="none" stroke="#181818" stroke-width="1.15"/>
<path d="M258.0,377.1 C260.0,374.9 265.5,368.9 270.0,364.0 C274.5,359.1 279.3,352.5 285.0,348.0 C290.7,343.5 300.9,338.8 304.1,337.0" fill="none" stroke="#181818" stroke-width="1.15"/>
<path d="M263.0,377.1 C265.2,374.2 271.5,365.2 276.0,360.0 C280.5,354.8 285.3,349.3 290.0,346.0 C294.7,342.7 301.8,341.0 304.1,340.0" fill="none" stroke="#181818" stroke-width="1.15"/>
<path d="M277.5,356.5 L296.0,349.5" fill="none" stroke="#181818" stroke-width="1.15"/>
<path d="M270.5,367.0 L291.0,359.0" fill="none" stroke="#181818" stroke-width="1.15"/>
<path d="M278.0,372.0 L288.0,369.0" fill="none" stroke="#181818" stroke-width="1.15"/>
<path d="M304.1,340.0 C302.6,342.3 297.5,349.3 295.0,354.0 C292.5,358.7 290.7,364.1 289.0,368.0 C287.3,371.9 285.7,375.6 285.0,377.1" fill="none" stroke="#181818" stroke-width="1.15"/>
<path d="M259.0,375.0 C260.8,374.7 266.5,372.8 270.0,373.0 C273.5,373.2 278.3,375.5 280.0,376.0" fill="none" stroke="#181818" stroke-width="1.15"/>
<path d="M304.0,305.5 C307.3,304.8 319.3,302.5 324.0,301.5 C328.7,300.5 329.0,299.7 332.0,299.5 C335.0,299.3 338.0,299.8 342.0,300.5 C346.0,301.2 352.0,302.9 356.0,304.0 C360.0,305.1 363.7,306.0 366.0,307.0 C368.3,308.0 369.3,309.5 370.0,310.0" fill="none" stroke="#181818" stroke-width="1.15"/>
<path d="M304.0,329.0 C305.7,328.5 310.2,327.2 314.0,326.0 C317.8,324.8 322.0,323.8 327.0,322.0 C332.0,320.2 338.5,316.8 344.0,315.0 C349.5,313.2 355.0,312.2 360.0,311.5 C365.0,310.8 369.7,310.8 374.0,311.0 C378.3,311.2 381.8,311.8 386.0,313.0 C390.2,314.2 394.3,315.8 399.0,318.0 C403.7,320.2 409.1,323.2 414.0,326.0 C418.9,328.8 425.8,333.5 428.1,335.0" fill="none" stroke="#181818" stroke-width="1.15"/>
<path d="M304.0,362.0 C305.0,360.7 307.7,356.3 310.0,354.0 C312.3,351.7 314.8,350.2 318.0,348.0 C321.2,345.8 324.7,343.5 329.0,341.0 C333.3,338.5 339.5,335.0 344.0,333.0 C348.5,331.0 351.8,329.9 356.0,329.0 C360.2,328.1 364.7,327.6 369.0,327.5 C373.3,327.4 377.8,327.8 382.0,328.5 C386.2,329.2 390.3,330.4 394.0,332.0 C397.7,333.6 400.7,335.7 404.0,338.0 C407.3,340.3 411.3,343.7 414.0,346.0 C416.7,348.3 418.3,350.0 420.0,352.0 C421.7,354.0 423.3,357.0 424.0,358.0" fill="none" stroke="#181818" stroke-width="1.15"/>
<path d="M376.0,311.0 C378.2,310.2 384.3,307.7 389.0,306.0 C393.7,304.3 399.5,302.5 404.0,301.0 C408.5,299.5 414.0,297.7 416.0,297.0" fill="none" stroke="#181818" stroke-width="1.15"/>
<path d="M378.0,309.0 C377.7,308.0 376.2,305.2 376.0,303.0 C375.8,300.8 376.3,297.8 377.0,296.0 C377.7,294.2 378.8,293.0 380.0,292.0 C381.2,291.0 383.3,290.3 384.0,290.0" fill="none" stroke="#181818" stroke-width="1.15"/>
<path d="M402.0,317.0 C402.1,316.2 402.0,313.3 402.5,312.0 C403.0,310.7 402.8,310.2 405.0,309.0 C407.2,307.8 414.2,305.7 416.0,305.0" fill="none" stroke="#181818" stroke-width="1.15"/>
<path d="M410.5,321.0 C410.6,320.0 410.6,316.5 411.0,315.0 C411.4,313.5 412.2,312.7 413.0,312.0 C413.8,311.3 415.5,311.2 416.0,311.0" fill="none" stroke="#181818" stroke-width="1.15"/>
<path d="M417.0,290.0 L417.0,324.0" fill="none" stroke="#181818" stroke-width="1.15"/>
<path d="M327.0,377.1 C326.9,375.2 326.2,369.5 326.5,366.0 C326.8,362.5 327.6,358.8 329.0,356.0 C330.4,353.2 332.5,350.8 335.0,349.0 C337.5,347.2 341.2,346.2 344.0,345.5 C346.8,344.8 349.3,344.6 352.0,345.0 C354.7,345.4 357.5,346.3 360.0,348.0 C362.5,349.7 365.0,352.2 367.0,355.0 C369.0,357.8 370.8,361.3 372.0,365.0 C373.2,368.7 373.7,375.1 374.0,377.1" fill="none" stroke="#181818" stroke-width="1.15"/>
<path d="M329.0,377.1 C329.0,375.4 328.5,370.2 329.0,367.0 C329.5,363.8 330.5,360.7 332.0,358.0 C333.5,355.3 335.7,352.8 338.0,351.0 C340.3,349.2 343.3,347.6 346.0,347.0 C348.7,346.4 351.5,346.7 354.0,347.5 C356.5,348.3 359.0,349.9 361.0,352.0 C363.0,354.1 364.8,357.0 366.0,360.0 C367.2,363.0 367.7,367.1 368.0,370.0 C368.3,372.9 368.0,375.9 368.0,377.1" fill="none" stroke="#181818" stroke-width="1.15"/>
<path d="M331.5,377.1 C331.5,375.6 331.1,370.9 331.5,368.0 C331.9,365.1 332.8,362.4 334.0,360.0 C335.2,357.6 337.0,355.2 339.0,353.5 C341.0,351.8 343.7,350.1 346.0,349.5 C348.3,348.9 350.8,349.2 353.0,350.0 C355.2,350.8 357.2,352.2 359.0,354.0 C360.8,355.8 362.5,358.3 363.5,361.0 C364.5,363.7 364.8,367.3 365.0,370.0 C365.2,372.7 365.0,375.9 365.0,377.1" fill="none" stroke="#181818" stroke-width="1.15"/>
<ellipse cx="347.0" cy="366.5" rx="3.5" ry="3.5" fill="none" stroke="#181818" stroke-width="1.15"/>
<path d="M345.0,369.5 L341.5,377.1" fill="none" stroke="#181818" stroke-width="1.15"/>
<path d="M346.5,370.0 L343.0,377.1" fill="none" stroke="#181818" stroke-width="1.15"/>
<ellipse cx="351.5" cy="374.5" rx="1.8" ry="2.5" fill="none" stroke="#181818" stroke-width="1.15"/>
<path d="M328.0,342.0 C329.3,341.5 333.3,339.7 336.0,339.0 C338.7,338.3 341.7,337.9 344.0,338.0 C346.3,338.1 349.0,339.2 350.0,339.5" fill="none" stroke="#181818" stroke-width="1.15"/>
<path d="M356.0,344.0 C357.3,344.8 361.7,347.0 364.0,349.0 C366.3,351.0 368.3,353.2 370.0,356.0 C371.7,358.8 373.2,362.5 374.0,366.0 C374.8,369.5 374.8,375.2 375.0,377.1" fill="none" stroke="#181818" stroke-width="1.15"/>
<path d="M367.0,329.5 C368.2,330.1 371.7,331.2 374.0,333.0 C376.3,334.8 379.1,337.5 381.0,340.0 C382.9,342.5 384.8,346.7 385.5,348.0" fill="none" stroke="#181818" stroke-width="1.15"/>
<path d="M304.0,328.0 C305.7,327.5 310.8,326.0 314.0,325.0 C317.2,324.0 321.9,322.5 323.5,322.0" fill="none" stroke="#181818" stroke-width="1.15"/>
<path d="M304.0,334.0 C305.5,333.3 309.8,331.6 313.0,330.0 C316.2,328.4 321.8,325.4 323.5,324.5" fill="none" stroke="#181818" stroke-width="1.15"/>
<path d="M304.0,342.0 C305.0,340.8 308.5,336.8 310.0,335.0 C311.5,333.2 312.5,331.7 313.0,331.0" fill="none" stroke="#181818" stroke-width="1.15"/>
<path d="M315.0,358.5 C316.0,358.2 319.8,356.6 321.0,356.5 C322.2,356.4 322.1,355.8 322.5,358.0 C322.9,360.2 323.1,367.2 323.5,370.0 C323.9,372.8 324.8,374.2 325.0,375.0" fill="none" stroke="#181818" stroke-width="1.15"/>
<path d="M304.0,377.1 C304.8,375.2 307.0,369.7 309.0,366.0 C311.0,362.3 313.6,358.1 316.0,355.0 C318.4,351.9 322.2,348.8 323.5,347.5" fill="none" stroke="#181818" stroke-width="1.15"/>
<path d="M328.0,346.0 C329.5,345.8 334.0,344.8 337.0,344.5 C340.0,344.2 344.5,344.1 346.0,344.0" fill="none" stroke="#181818" stroke-width="1.15"/>
<path d="M392.0,342.0 C392.3,343.3 393.5,347.0 394.0,350.0 C394.5,353.0 395.0,356.8 395.0,360.0 C395.0,363.2 394.5,366.7 394.0,369.0 C393.5,371.3 392.3,373.2 392.0,374.0" fill="none" stroke="#181818" stroke-width="1.15"/>
<path d="M397.0,335.0 C397.7,336.7 400.0,341.7 401.0,345.0 C402.0,348.3 402.6,351.5 403.0,355.0 C403.4,358.5 403.5,362.3 403.5,366.0 C403.5,369.7 403.1,375.2 403.0,377.1" fill="none" stroke="#181818" stroke-width="1.15"/>
<path d="M408.0,342.0 C408.5,343.7 410.2,348.7 411.0,352.0 C411.8,355.3 412.5,359.0 413.0,362.0 C413.5,365.0 413.8,368.7 414.0,370.0" fill="none" stroke="#181818" stroke-width="1.15"/>
<path d="M423.0,330.0 C423.7,329.8 426.1,328.7 427.0,328.5 C427.9,328.3 427.9,328.9 428.1,329.0" fill="none" stroke="#181818" stroke-width="1.15"/>
<path d="M424.0,331.0 L428.1,334.0" fill="none" stroke="#181818" stroke-width="1.15"/>
<path d="M433.0,336.5 C437.2,335.0 448.2,330.9 458.0,327.5 C467.8,324.1 486.3,318.1 492.0,316.2" fill="none" stroke="#181818" stroke-width="1.15"/>
<path d="M433.5,338.5 C437.9,336.9 450.2,332.3 460.0,329.0 C469.8,325.7 487.1,320.2 492.5,318.5" fill="none" stroke="#181818" stroke-width="1.15"/>
<path d="M435.0,340.5 C439.3,338.9 452.2,334.0 461.0,331.0 C469.8,328.0 483.5,323.9 488.0,322.5" fill="none" stroke="#181818" stroke-width="1.15"/>
<path d="M490.0,321.0 C490.5,320.9 492.3,319.8 493.0,320.5 C493.7,321.2 494.2,324.0 494.0,325.0 C493.8,326.0 492.3,326.2 492.0,326.5" fill="none" stroke="#181818" stroke-width="1.15"/>
<path d="M443.0,345.5 C447.2,343.9 459.7,339.2 468.0,336.0 C476.3,332.8 488.8,328.1 493.0,326.5" fill="none" stroke="#181818" stroke-width="1.15"/>
<ellipse cx="494.0" cy="310.0" rx="4.2" ry="4.2" fill="none" stroke="#181818" stroke-width="1.15"/>
<ellipse cx="497.0" cy="309.5" rx="3.8" ry="3.8" fill="none" stroke="#181818" stroke-width="1.15"/>
<path d="M498.0,314.0 C499.0,315.0 502.2,317.5 504.0,320.0 C505.8,322.5 507.8,326.2 509.0,329.0 C510.2,331.8 510.8,334.3 511.0,337.0 C511.2,339.7 511.0,342.5 510.5,345.0 C510.0,347.5 509.1,350.0 508.0,352.0 C506.9,354.0 505.7,355.7 504.0,357.0 C502.3,358.3 499.0,359.5 498.0,360.0" fill="none" stroke="#181818" stroke-width="1.15"/>
<ellipse cx="474.0" cy="357.0" rx="11.2" ry="15.2" fill="none" stroke="#181818" stroke-width="1.15" transform="rotate(18 474.0 357.0)"/>
<ellipse cx="475.0" cy="357.5" rx="7.6" ry="10.4" fill="none" stroke="#181818" stroke-width="1.15" transform="rotate(18 475.0 357.5)"/>
<ellipse cx="475.2" cy="357.8" rx="5.6" ry="7.6" fill="none" stroke="#181818" stroke-width="1.15" transform="rotate(18 475.2 357.8)"/>
<path d="M475.2,357.8 L474.0,352.0" fill="none" stroke="#181818" stroke-width="1.15"/>
<path d="M475.2,357.8 L480.0,361.0" fill="none" stroke="#181818" stroke-width="1.15"/>
<path d="M475.2,357.8 L471.0,361.5" fill="none" stroke="#181818" stroke-width="1.15"/>
<path d="M498.0,332.0 C497.3,333.0 494.8,335.7 494.0,338.0 C493.2,340.3 492.8,343.5 493.0,346.0 C493.2,348.5 493.8,351.2 495.0,353.0 C496.2,354.8 499.2,355.9 500.0,356.5" fill="none" stroke="#181818" stroke-width="1.15"/>
<ellipse cx="504.0" cy="346.0" rx="6.0" ry="9.5" fill="none" stroke="#181818" stroke-width="1.15" transform="rotate(15 504.0 346.0)"/>
<ellipse cx="504.2" cy="346.2" rx="4.4" ry="7.0" fill="none" stroke="#181818" stroke-width="1.15" transform="rotate(15 504.2 346.2)"/>
<path d="M504.2,346.2 L503.2,341.5" fill="none" stroke="#181818" stroke-width="1.15"/>
<path d="M504.2,346.2 L507.5,349.0" fill="none" stroke="#181818" stroke-width="1.15"/>
<path d="M504.2,346.2 L501.5,349.0" fill="none" stroke="#181818" stroke-width="1.15"/>
<path d="M454.5,366.5 L461.5,364.5 L464.0,369.0 L456.0,373.0Z" fill="none" stroke="#181818" stroke-width="1.15"/>
<path d="M483.5,361.5 L486.0,360.0 L490.5,352.5 L493.5,356.5 L492.0,359.0 L485.0,362.0Z" fill="none" stroke="#181818" stroke-width="1.15"/>
<path d="M468.0,376.0 C470.7,374.8 479.0,371.1 484.0,369.0 C489.0,366.9 495.7,364.4 498.0,363.5" fill="none" stroke="#181818" stroke-width="1.15"/>
<path d="M471.0,377.1 C472.2,376.6 475.8,374.6 478.0,374.0 C480.2,373.4 482.3,373.2 484.0,373.5 C485.7,373.8 487.3,375.6 488.0,376.0" fill="none" stroke="#111" stroke-width="1.7"/>
<path d="M428.0,329.0 C428.5,329.2 430.2,329.3 431.0,330.0 C431.8,330.7 432.8,331.8 433.0,333.0 C433.2,334.2 432.2,336.3 432.0,337.0" fill="none" stroke="#181818" stroke-width="1.15"/>
<path d="M428.0,335.0 C429.0,336.2 431.8,339.5 434.0,342.0 C436.2,344.5 438.7,347.3 441.0,350.0 C443.3,352.7 446.0,355.3 448.0,358.0 C450.0,360.7 451.7,362.8 453.0,366.0 C454.3,369.2 455.5,375.2 456.0,377.1" fill="none" stroke="#181818" stroke-width="1.15"/>
<path d="M442.0,354.0 C443.0,354.7 446.3,356.3 448.0,358.0 C449.7,359.7 451.2,362.2 452.0,364.0 C452.8,365.8 452.8,368.2 453.0,369.0" fill="none" stroke="#181818" stroke-width="1.15"/>
<path d="M511.0,348.0 C512.2,346.5 515.8,341.8 518.0,339.0 C520.2,336.2 522.0,333.3 524.0,331.0 C526.0,328.7 527.7,327.2 530.0,325.0 C532.3,322.8 534.3,320.8 538.0,318.0 C541.7,315.2 549.8,310.1 552.1,308.5" fill="none" stroke="#181818" stroke-width="1.15"/>
<path d="M518.5,314.0 L552.1,298.5" fill="none" stroke="#111" stroke-width="1.7" stroke-dasharray="6 3.4"/>
<path d="M518.5,314.0 C518.9,315.3 520.1,318.7 521.0,322.0 C521.9,325.3 523.2,330.6 524.0,334.0 C524.8,337.4 525.2,341.1 525.5,342.5" fill="none" stroke="#111" stroke-width="1.7" stroke-dasharray="6 3.4"/>
<path d="M525.5,342.5 L552.1,328.5" fill="none" stroke="#111" stroke-width="1.7" stroke-dasharray="6 3.4"/>
<path d="M511.5,370.0 L521.0,356.0 L539.0,347.0 L539.5,348.5 L530.0,359.0 L513.0,370.5Z" fill="none" stroke="#181818" stroke-width="1.15"/>
<path d="M518.0,362.0 L536.0,350.0" fill="none" stroke="#181818" stroke-width="1.15"/>
<path d="M510.0,377.1 C513.0,375.2 521.0,370.4 528.0,366.0 C535.0,361.6 548.1,353.5 552.1,351.0" fill="none" stroke="#181818" stroke-width="1.15"/>
<path d="M526.5,377.1 C526.6,376.4 526.6,373.9 527.0,373.0 C527.4,372.1 526.3,371.7 529.0,371.5 C531.7,371.3 540.4,371.6 543.0,372.0 C545.6,372.4 544.3,373.1 544.5,374.0 C544.7,374.9 544.1,376.6 544.0,377.1" fill="none" stroke="#181818" stroke-width="1.15"/>
<path d="M535.5,363.5 C536.8,363.8 540.2,365.1 543.0,365.0 C545.8,364.9 550.6,363.3 552.1,363.0" fill="none" stroke="#181818" stroke-width="1.15"/>
<path d="M550.5,364.0 L549.5,377.1" fill="none" stroke="#181818" stroke-width="1.15"/>
<path d="M428.0,293.0 C428.2,295.8 428.7,304.5 429.0,310.0 C429.3,315.5 429.8,323.3 430.0,326.0" fill="none" stroke="#181818" stroke-width="1.15"/>
<path d="M182.0,433.0 C181.7,430.2 181.8,426.8 183.0,424.0 C184.2,421.2 186.5,418.0 189.0,416.0 C191.5,414.0 194.8,412.8 198.0,412.0 C201.2,411.2 204.7,411.1 208.0,411.5 C211.3,411.9 215.3,412.9 218.0,414.5 C220.7,416.1 222.7,418.6 224.0,421.0 C225.3,423.4 226.0,426.0 226.0,429.0 C226.0,432.0 225.3,436.0 224.0,439.0 C222.7,442.0 220.5,444.9 218.0,447.0 C215.5,449.1 212.0,450.7 209.0,451.5 C206.0,452.3 203.0,452.6 200.0,452.0 C197.0,451.4 193.5,449.8 191.0,448.0 C188.5,446.2 186.5,443.5 185.0,441.0 C183.5,438.5 182.3,435.8 182.0,433.0Z" fill="none" stroke="#181818" stroke-width="1.15"/>
<path d="M195.0,409.0 C196.2,408.6 199.3,406.9 202.0,406.5 C204.7,406.1 208.0,405.9 211.0,406.5 C214.0,407.1 217.5,408.6 220.0,410.0 C222.5,411.4 224.5,413.3 226.0,415.0 C227.5,416.7 228.5,419.2 229.0,420.0" fill="none" stroke="#181818" stroke-width="1.15"/>
<path d="M189.0,435.0 C188.8,432.5 189.7,429.2 191.0,427.0 C192.3,424.8 194.7,423.2 197.0,422.0 C199.3,420.8 202.3,420.2 205.0,420.0 C207.7,419.8 210.5,420.0 213.0,421.0 C215.5,422.0 218.5,424.0 220.0,426.0 C221.5,428.0 222.0,430.5 222.0,433.0 C222.0,435.5 221.3,438.7 220.0,441.0 C218.7,443.3 216.3,445.7 214.0,447.0 C211.7,448.3 208.7,449.0 206.0,449.0 C203.3,449.0 200.3,448.2 198.0,447.0 C195.7,445.8 193.5,444.0 192.0,442.0 C190.5,440.0 189.2,437.5 189.0,435.0Z" fill="none" stroke="#181818" stroke-width="1.15"/>
<path d="M198.5,438.0 C198.6,436.4 198.9,434.2 200.0,433.0 C201.1,431.8 203.2,431.2 205.0,431.0 C206.8,430.8 209.3,430.8 211.0,431.5 C212.7,432.2 214.2,433.6 215.0,435.0 C215.8,436.4 216.3,438.3 216.0,440.0 C215.7,441.7 214.3,443.8 213.0,445.0 C211.7,446.2 209.7,446.8 208.0,447.0 C206.3,447.2 204.4,446.8 203.0,446.0 C201.6,445.2 200.2,443.8 199.5,442.5 C198.8,441.2 198.4,439.6 198.5,438.0Z" fill="none" stroke="#181818" stroke-width="1.15"/>
<path d="M201.5,437.0 C201.8,437.5 202.1,439.3 203.0,440.0 C203.9,440.7 206.3,440.8 207.0,441.0" fill="none" stroke="#181818" stroke-width="1.15"/>
<path d="M210.0,424.0 C210.7,424.7 213.0,426.5 214.0,428.0 C215.0,429.5 215.7,432.2 216.0,433.0" fill="none" stroke="#181818" stroke-width="1.15"/>
<path d="M211.0,421.5 L215.0,425.0" fill="none" stroke="#181818" stroke-width="1.15"/>
<path d="M194.0,437.0 C194.2,437.8 194.2,440.5 195.0,442.0 C195.8,443.5 198.3,445.3 199.0,446.0" fill="none" stroke="#181818" stroke-width="1.15"/>
<path d="M180.0,447.0 C180.7,448.0 182.5,451.3 184.0,453.0 C185.5,454.7 187.0,455.8 189.0,457.0 C191.0,458.2 193.3,459.5 196.0,460.0 C198.7,460.5 201.8,460.3 205.0,460.0 C208.2,459.7 213.3,458.3 215.0,458.0" fill="none" stroke="#181818" stroke-width="1.15"/>
<path d="M186.0,459.0 L187.5,464.1" fill="none" stroke="#181818" stroke-width="1.15"/>
<path d="M232.0,377.0 C231.8,377.8 230.5,380.0 230.5,382.0 C230.5,384.0 231.1,386.7 232.0,389.0 C232.9,391.3 234.3,393.5 236.0,396.0 C237.7,398.5 240.4,401.5 242.0,404.0 C243.6,406.5 245.0,409.0 245.5,411.0 C246.0,413.0 245.6,414.7 245.0,416.0 C244.4,417.3 243.7,418.2 242.0,419.0 C240.3,419.8 236.6,420.2 235.0,421.0 C233.4,421.8 233.0,422.5 232.5,424.0 C232.0,425.5 232.4,427.5 232.0,430.0 C231.6,432.5 231.0,436.2 230.0,439.0 C229.0,441.8 227.7,444.7 226.0,447.0 C224.3,449.3 222.3,451.3 220.0,453.0 C217.7,454.7 213.3,456.3 212.0,457.0" fill="none" stroke="#181818" stroke-width="1.15"/>
<path d="M235.0,423.0 C235.8,424.0 237.8,427.3 240.0,429.0 C242.2,430.7 245.3,432.0 248.0,433.0 C250.7,434.0 254.7,434.7 256.0,435.0" fill="none" stroke="#181818" stroke-width="1.15"/>
<path d="M256.0,377.0 C255.3,377.7 253.0,379.2 252.0,381.0 C251.0,382.8 250.0,385.3 250.0,388.0 C250.0,390.7 250.8,393.8 252.0,397.0 C253.2,400.2 255.2,403.7 257.0,407.0 C258.8,410.3 261.3,414.2 263.0,417.0 C264.7,419.8 266.3,422.8 267.0,424.0" fill="none" stroke="#181818" stroke-width="1.15"/>
<path d="M260.0,377.0 C259.2,377.8 256.1,380.0 255.0,382.0 C253.9,384.0 253.3,386.2 253.5,389.0 C253.7,391.8 254.8,395.7 256.0,399.0 C257.2,402.3 259.5,406.0 261.0,409.0 C262.5,412.0 264.3,415.7 265.0,417.0" fill="none" stroke="#181818" stroke-width="1.15"/>
<ellipse cx="268.0" cy="396.5" rx="3.0" ry="3.0" fill="none" stroke="#181818" stroke-width="1.15"/>
<path d="M265.0,403.0 L261.0,410.0" fill="none" stroke="#181818" stroke-width="1.7"/>
<path d="M271.5,404.0 C271.9,404.2 273.4,404.4 274.0,405.0 C274.6,405.6 275.2,406.8 275.0,407.5 C274.8,408.2 273.8,408.4 273.0,409.0 C272.2,409.6 270.5,410.7 270.0,411.0" fill="none" stroke="#181818" stroke-width="1.15"/>
<path d="M263.0,414.0 C264.2,414.2 267.3,415.5 270.0,415.5 C272.7,415.5 277.5,414.2 279.0,414.0" fill="none" stroke="#181818" stroke-width="1.15"/>
<path d="M265.0,417.0 C266.2,417.2 269.5,418.1 272.0,418.0 C274.5,417.9 278.7,416.8 280.0,416.5" fill="none" stroke="#181818" stroke-width="1.15"/>
<path d="M286.0,377.0 C285.3,378.7 282.9,383.3 282.0,387.0 C281.1,390.7 280.7,394.8 280.5,399.0 C280.3,403.2 280.6,407.7 281.0,412.0 C281.4,416.3 282.0,420.5 283.0,425.0 C284.0,429.5 285.3,434.0 287.0,439.0 C288.7,444.0 291.5,450.8 293.0,455.0 C294.5,459.2 295.5,462.6 296.0,464.1" fill="none" stroke="#181818" stroke-width="1.15"/>
<path d="M279.0,377.0 C279.5,377.5 281.2,379.8 282.0,380.0 C282.8,380.2 283.7,378.3 284.0,378.0" fill="none" stroke="#181818" stroke-width="1.15"/>
<path d="M304.1,381.0 C303.8,382.8 302.9,388.3 302.5,392.0 C302.1,395.7 301.7,401.2 301.5,403.0" fill="none" stroke="#181818" stroke-width="1.15"/>
<path d="M304.1,404.0 C303.6,404.5 301.8,405.3 301.0,407.0 C300.2,408.7 299.5,411.5 299.5,414.0 C299.5,416.5 300.2,420.0 301.0,422.0 C301.8,424.0 303.6,425.3 304.1,426.0" fill="none" stroke="#181818" stroke-width="1.15"/>
<path d="M300.0,413.0 L304.1,413.5" fill="none" stroke="#181818" stroke-width="1.15"/>
<path d="M256.0,437.0 C256.2,436.3 256.2,434.3 257.0,433.0 C257.8,431.7 259.3,430.2 261.0,429.0 C262.7,427.8 263.8,427.2 267.0,426.0 C270.2,424.8 277.8,422.2 280.0,421.5" fill="none" stroke="#111" stroke-width="1.7"/>
<path d="M256.0,437.0 C256.2,437.7 256.3,439.9 257.0,441.0 C257.7,442.1 258.7,443.2 260.0,443.5 C261.3,443.8 261.2,444.1 265.0,443.0 C268.8,441.9 280.0,438.0 283.0,437.0" fill="none" stroke="#111" stroke-width="1.7"/>
<path d="M260.0,431.5 C260.4,432.2 262.2,434.4 262.5,436.0 C262.8,437.6 262.1,439.9 261.5,441.0 C260.9,442.1 259.4,442.2 259.0,442.5" fill="none" stroke="#181818" stroke-width="1.15"/>
<path d="M210.0,460.0 L239.0,451.0" fill="none" stroke="#111" stroke-width="1.7"/>
<path d="M244.0,448.5 C246.0,447.8 253.3,444.7 256.0,444.0 C258.7,443.3 259.3,444.4 260.0,444.5" fill="none" stroke="#111" stroke-width="1.7"/>
<path d="M260.0,444.5 L265.0,445.0 L265.5,449.0 L263.5,450.5 L229.0,464.1" fill="none" stroke="#111" stroke-width="1.7"/>
<path d="M233.0,453.5 L236.0,460.0" fill="none" stroke="#111" stroke-width="1.7"/>
<path d="M251.0,447.0 L254.0,454.0" fill="none" stroke="#111" stroke-width="1.7"/>
<path d="M220.0,458.5 L223.0,464.1" fill="none" stroke="#111" stroke-width="1.7"/>
<path d="M275.0,443.0 L282.0,464.1" fill="none" stroke="#181818" stroke-width="1.15"/>
<path d="M283.0,437.0 C283.5,438.7 284.8,443.7 286.0,447.0 C287.2,450.3 288.7,454.1 290.0,457.0 C291.3,459.9 293.3,462.9 294.0,464.1" fill="none" stroke="#181818" stroke-width="1.15"/>
<path d="M180.0,386.0 C181.3,385.3 185.3,383.5 188.0,382.0 C190.7,380.5 194.7,377.8 196.0,377.0" fill="none" stroke="#181818" stroke-width="1.15"/>
<path d="M180.0,382.0 L186.0,379.0" fill="none" stroke="#181818" stroke-width="1.15"/>
<path d="M335.0,401.0 C336.5,399.5 340.5,394.5 344.0,392.0 C347.5,389.5 352.0,387.4 356.0,386.0 C360.0,384.6 364.2,383.8 368.0,383.5 C371.8,383.2 375.8,383.9 379.0,384.5 C382.2,385.1 385.7,386.6 387.0,387.0" fill="none" stroke="#111" stroke-width="1.7"/>
<path d="M335.0,401.0 C335.5,403.0 336.5,408.8 338.0,413.0 C339.5,417.2 341.7,421.7 344.0,426.0 C346.3,430.3 349.0,435.2 352.0,439.0 C355.0,442.8 358.7,446.2 362.0,449.0 C365.3,451.8 369.2,453.8 372.0,456.0 C374.8,458.2 377.8,461.0 379.0,462.0" fill="none" stroke="#111" stroke-width="1.7"/>
<path d="M379.0,462.0 C380.8,461.3 386.5,460.5 390.0,458.0 C393.5,455.5 397.2,451.2 400.0,447.0 C402.8,442.8 405.3,437.3 407.0,433.0 C408.7,428.7 409.7,424.8 410.0,421.0 C410.3,417.2 410.0,413.5 409.0,410.0 C408.0,406.5 406.0,403.0 404.0,400.0 C402.0,397.0 399.0,394.0 397.0,392.0 C395.0,390.0 392.8,388.7 392.0,388.0" fill="none" stroke="#111" stroke-width="1.7"/>
<path d="M357.5,402.5 C358.2,401.4 360.1,398.1 362.0,396.0 C363.9,393.9 366.3,391.5 369.0,390.0 C371.7,388.5 375.2,387.4 378.0,387.0 C380.8,386.6 384.7,387.4 386.0,387.5" fill="none" stroke="#181818" stroke-width="1.15"/>
<path d="M372.0,441.5 C373.3,441.9 377.0,443.7 380.0,444.0 C383.0,444.3 386.8,444.3 390.0,443.5 C393.2,442.7 396.7,440.4 399.0,439.0 C401.3,437.6 403.2,435.7 404.0,435.0" fill="none" stroke="#181818" stroke-width="1.15"/>
<ellipse cx="384.0" cy="415.5" rx="16.5" ry="17.5" fill="none" stroke="#181818" stroke-width="1.15"/>
<path d="M373.0,416.5 C373.2,415.2 373.0,411.0 374.0,409.0 C375.0,407.0 377.0,405.4 379.0,404.5 C381.0,403.6 383.7,403.2 386.0,403.5 C388.3,403.8 391.2,404.8 393.0,406.0 C394.8,407.2 395.9,410.2 396.5,411.0" fill="none" stroke="#181818" stroke-width="1.4"/>
<path d="M375.5,421.0 C376.2,421.8 378.1,425.0 380.0,426.0 C381.9,427.0 384.8,427.3 387.0,427.0 C389.2,426.7 391.6,425.3 393.0,424.0 C394.4,422.7 395.1,419.8 395.5,419.0" fill="none" stroke="#181818" stroke-width="1.4"/>
<path d="M313.5,429.0 L315.0,425.0 L322.0,420.0 L333.0,413.5 L336.0,414.0 L340.5,431.0 L339.0,433.0 L316.0,440.5 L314.0,438.0Z" fill="none" stroke="#111" stroke-width="1.7"/>
<path d="M321.5,422.5 L322.5,437.0" fill="none" stroke="#181818" stroke-width="1.15"/>
<path d="M316.0,446.0 L344.0,436.0" fill="none" stroke="#181818" stroke-width="1.15"/>
<path d="M313.0,450.0 L346.0,439.0" fill="none" stroke="#181818" stroke-width="1.15"/>
<path d="M314.0,454.0 C317.8,452.8 331.3,448.8 337.0,447.0 C342.7,445.2 346.2,443.7 348.0,443.0" fill="none" stroke="#181818" stroke-width="1.15"/>
<path d="M337.0,449.0 C339.0,450.2 345.2,453.5 349.0,456.0 C352.8,458.5 358.2,462.8 360.0,464.1" fill="none" stroke="#181818" stroke-width="1.15"/>
<path d="M348.0,441.0 C350.0,443.0 355.7,449.1 360.0,453.0 C364.3,456.9 371.7,462.2 374.0,464.1" fill="none" stroke="#181818" stroke-width="1.15"/>
<path d="M310.0,429.0 C310.2,430.7 310.7,435.0 311.0,439.0 C311.3,443.0 311.5,448.8 312.0,453.0 C312.5,457.2 313.7,462.2 314.0,464.1" fill="none" stroke="#181818" stroke-width="1.15"/>
<path d="M304.0,427.0 C304.8,426.7 307.5,425.8 309.0,425.0 C310.5,424.2 312.3,422.5 313.0,422.0" fill="none" stroke="#181818" stroke-width="1.15"/>
<path d="M304.0,398.0 C307.3,396.5 316.8,391.5 324.0,389.0 C331.2,386.5 343.2,384.0 347.0,383.0" fill="none" stroke="#181818" stroke-width="1.15"/>
<path d="M304.0,401.5 C307.8,399.9 319.7,394.2 327.0,392.0 C334.3,389.8 344.5,388.7 348.0,388.0" fill="none" stroke="#181818" stroke-width="1.15"/>
<path d="M316.0,415.0 C316.7,413.7 318.2,409.3 320.0,407.0 C321.8,404.7 324.5,402.7 327.0,401.0 C329.5,399.3 333.7,397.7 335.0,397.0" fill="none" stroke="#181818" stroke-width="1.15"/>
<path d="M304.0,425.0 C305.7,424.0 310.7,421.3 314.0,419.0 C317.3,416.7 320.7,413.7 324.0,411.0 C327.3,408.3 332.3,404.3 334.0,403.0" fill="none" stroke="#181818" stroke-width="1.15"/>
<path d="M304.0,414.0 C304.5,414.5 306.3,415.7 307.0,417.0 C307.7,418.3 308.2,420.5 308.0,422.0 C307.8,423.5 306.3,425.3 306.0,426.0" fill="none" stroke="#181818" stroke-width="1.15"/>
<path d="M327.0,381.0 C328.2,381.8 331.2,385.0 334.0,386.0 C336.8,387.0 340.7,387.2 344.0,387.0 C347.3,386.8 351.3,386.0 354.0,385.0 C356.7,384.0 359.0,381.7 360.0,381.0" fill="none" stroke="#181818" stroke-width="1.15"/>
<path d="M331.0,377.0 C332.0,377.8 334.5,381.0 337.0,382.0 C339.5,383.0 342.8,383.2 346.0,383.0 C349.2,382.8 353.3,382.0 356.0,381.0 C358.7,380.0 361.0,377.7 362.0,377.0" fill="none" stroke="#181818" stroke-width="1.15"/>
<path d="M410.0,437.0 C410.7,435.0 413.0,428.0 414.0,425.0 C415.0,422.0 413.6,420.8 416.0,419.0 C418.4,417.2 426.1,414.8 428.1,414.0" fill="none" stroke="#181818" stroke-width="1.15"/>
<path d="M404.0,446.0 L407.0,464.1" fill="none" stroke="#181818" stroke-width="1.15"/>
<path d="M408.0,441.0 L411.0,464.1" fill="none" stroke="#181818" stroke-width="1.15"/>
<path d="M414.0,438.0 L428.1,446.0" fill="none" stroke="#181818" stroke-width="1.15"/>
<path d="M390.0,460.0 L392.0,464.1" fill="none" stroke="#181818" stroke-width="1.15"/>
<path d="M455.0,377.0 C455.7,379.0 458.0,384.8 459.0,389.0 C460.0,393.2 460.6,397.7 461.0,402.0 C461.4,406.3 461.7,410.5 461.5,415.0 C461.3,419.5 460.8,424.5 460.0,429.0 C459.2,433.5 458.2,437.8 457.0,442.0 C455.8,446.2 454.5,450.3 453.0,454.0 C451.5,457.7 448.8,462.4 448.0,464.1" fill="none" stroke="#181818" stroke-width="1.15"/>
<path d="M445.0,414.0 C445.2,415.3 446.1,418.8 446.0,422.0 C445.9,425.2 445.2,429.2 444.5,433.0 C443.8,436.8 442.8,441.2 441.5,445.0 C440.2,448.8 438.6,452.8 437.0,456.0 C435.4,459.2 432.8,462.8 432.0,464.1" fill="none" stroke="#181818" stroke-width="1.15"/>
<path d="M428.0,447.0 C429.0,447.3 432.3,448.8 434.0,449.0 C435.7,449.2 437.3,448.6 438.0,448.5" fill="none" stroke="#181818" stroke-width="1.15"/>
<path d="M444.0,438.0 C445.2,437.8 448.5,437.2 451.0,436.5 C453.5,435.8 457.7,434.0 459.0,433.5" fill="none" stroke="#181818" stroke-width="1.15"/>
<path d="M457.0,380.0 L468.0,377.0" fill="none" stroke="#181818" stroke-width="1.15"/>
<path d="M458.0,382.5 L470.0,378.0" fill="none" stroke="#181818" stroke-width="1.15"/>
<ellipse cx="485.5" cy="383.0" rx="6.0" ry="6.5" fill="none" stroke="#181818" stroke-width="1.15"/>
<path d="M482.0,376.5 C481.3,376.9 478.8,377.9 478.0,379.0 C477.2,380.1 476.8,381.7 477.0,383.0 C477.2,384.3 478.1,386.0 479.0,387.0 C479.9,388.0 481.9,388.7 482.5,389.0" fill="none" stroke="#181818" stroke-width="1.15"/>
<path d="M461.0,393.0 L473.0,388.0 L478.0,392.5 L462.0,398.5Z" fill="none" stroke="#181818" stroke-width="1.15"/>
<path d="M461.5,400.0 C462.6,399.8 466.8,398.3 468.0,398.5 C469.2,398.7 469.9,399.8 469.0,401.0 C468.1,402.2 463.6,405.2 462.5,406.0" fill="none" stroke="#181818" stroke-width="1.15"/>
<path d="M462.0,410.0 C464.3,408.0 472.7,400.8 476.0,398.0 C479.3,395.2 481.0,394.2 482.0,393.5" fill="none" stroke="#181818" stroke-width="1.15"/>
<path d="M474.0,416.5 C475.3,414.1 479.3,406.8 482.0,402.0 C484.7,397.2 487.3,391.2 490.0,388.0 C492.7,384.8 494.5,384.8 498.0,383.0 C501.5,381.2 508.8,378.0 511.0,377.0" fill="none" stroke="#181818" stroke-width="1.15"/>
<path d="M502.0,384.5 C503.0,386.6 506.2,392.9 508.0,397.0 C509.8,401.1 511.7,405.5 513.0,409.0 C514.3,412.5 514.7,415.3 516.0,418.0 C517.3,420.7 518.7,422.8 521.0,425.0 C523.3,427.2 526.7,429.3 530.0,431.0 C533.3,432.7 539.2,434.3 541.0,435.0" fill="none" stroke="#181818" stroke-width="1.15"/>
<path d="M463.0,413.0 C465.3,414.8 474.6,421.5 477.0,424.0 C479.4,426.5 477.8,426.8 477.5,428.0 C477.2,429.2 478.1,429.6 475.0,431.5 C471.9,433.4 461.7,438.2 459.0,439.5" fill="none" stroke="#181818" stroke-width="1.15"/>
<path d="M483.5,420.0 C483.7,418.0 483.9,417.2 485.0,416.0 C486.1,414.8 488.2,413.6 490.0,413.0 C491.8,412.4 494.0,412.1 496.0,412.5 C498.0,412.9 500.3,414.2 502.0,415.5 C503.7,416.8 505.0,418.1 506.0,420.0 C507.0,421.9 507.7,424.3 508.0,427.0 C508.3,429.7 508.5,433.3 508.0,436.0 C507.5,438.7 505.5,440.0 505.0,443.0 C504.5,446.0 505.5,451.9 505.0,454.0 C504.5,456.1 503.5,455.5 502.0,455.5 C500.5,455.5 497.7,454.8 496.0,454.0 C494.3,453.2 493.2,452.3 492.0,451.0 C490.8,449.7 489.8,448.5 489.0,446.0 C488.2,443.5 487.8,439.0 487.0,436.0 C486.2,433.0 484.6,430.7 484.0,428.0 C483.4,425.3 483.3,422.0 483.5,420.0Z" fill="none" stroke="#111" stroke-width="1.7"/>
<path d="M487.0,418.0 C487.8,419.0 490.3,421.8 492.0,424.0 C493.7,426.2 495.8,428.2 497.0,431.0 C498.2,433.8 498.3,438.3 499.0,441.0 C499.7,443.7 500.0,445.7 501.0,447.0 C502.0,448.3 504.3,448.7 505.0,449.0" fill="none" stroke="#181818" stroke-width="1.15"/>
<path d="M488.0,416.0 L493.0,419.0" fill="none" stroke="#181818" stroke-width="1.15"/>
<path d="M498.0,422.0 C498.7,421.5 501.7,419.9 502.0,419.0 C502.3,418.1 500.3,416.9 500.0,416.5" fill="none" stroke="#181818" stroke-width="1.15"/>
<path d="M463.0,464.1 C463.8,462.8 465.8,458.5 468.0,456.0 C470.2,453.5 472.8,451.2 476.0,449.0 C479.2,446.8 485.2,444.0 487.0,443.0" fill="none" stroke="#181818" stroke-width="1.15"/>
<path d="M472.0,464.1 C473.0,462.8 475.5,458.5 478.0,456.0 C480.5,453.5 485.5,450.2 487.0,449.0" fill="none" stroke="#181818" stroke-width="1.15"/>
<path d="M479.0,464.1 C479.5,462.9 480.5,459.2 482.0,457.0 C483.5,454.8 487.0,452.0 488.0,451.0" fill="none" stroke="#181818" stroke-width="1.15"/>
<path d="M507.0,442.0 C508.2,442.7 510.5,444.5 514.0,446.0 C517.5,447.5 523.5,448.8 528.0,451.0 C532.5,453.2 537.0,456.8 541.0,459.0 C545.0,461.2 550.2,463.2 552.1,464.1" fill="none" stroke="#181818" stroke-width="1.15"/>
<path d="M508.0,451.0 C509.7,452.0 514.7,454.8 518.0,457.0 C521.3,459.2 526.3,462.9 528.0,464.1" fill="none" stroke="#181818" stroke-width="1.15"/>
<path d="M492.0,454.0 C492.3,454.7 492.7,457.0 494.0,458.0 C495.3,459.0 497.8,460.0 500.0,460.0 C502.2,460.0 505.7,459.5 507.0,458.0 C508.3,456.5 507.8,452.2 508.0,451.0" fill="none" stroke="#181818" stroke-width="1.15"/>
<path d="M510.0,457.0 L512.0,464.1" fill="none" stroke="#181818" stroke-width="1.15"/>
<path d="M528.0,449.5 C529.3,448.4 533.6,444.9 536.0,443.0 C538.4,441.1 541.4,438.8 542.5,438.0" fill="none" stroke="#181818" stroke-width="1.15"/>
<path d="M542.5,434.0 L552.1,431.0" fill="none" stroke="#181818" stroke-width="1.15"/>
<path d="M539.0,442.0 C538.8,443.2 537.8,446.7 538.0,449.0 C538.2,451.3 539.2,454.2 540.0,456.0 C540.8,457.8 542.1,459.3 542.5,460.0" fill="none" stroke="#181818" stroke-width="1.15"/>
<path d="M525.5,377.0 C525.6,378.7 525.4,384.7 526.0,387.0 C526.6,389.3 526.7,390.1 529.0,391.0 C531.3,391.9 537.5,392.7 540.0,392.5 C542.5,392.3 543.2,392.6 544.0,390.0 C544.8,387.4 544.4,379.2 544.5,377.0" fill="none" stroke="#181818" stroke-width="1.15"/>
<path d="M550.0,377.0 C550.1,378.7 550.1,383.7 550.5,387.0 C550.9,390.3 551.8,395.3 552.1,397.0" fill="none" stroke="#181818" stroke-width="1.15"/>
<path d="M540.0,396.0 C540.5,397.5 541.7,402.2 543.0,405.0 C544.3,407.8 546.5,410.8 548.0,413.0 C549.5,415.2 551.4,417.2 552.1,418.0" fill="none" stroke="#181818" stroke-width="1.15"/>
<path d="M455.0,451.0 C455.8,451.3 458.8,452.0 460.0,453.0 C461.2,454.0 462.0,455.7 462.0,457.0 C462.0,458.3 460.9,460.2 460.0,461.0 C459.1,461.8 457.1,461.8 456.5,462.0" fill="none" stroke="#111" stroke-width="1.7"/>
<path d="M450.0,461.0 L452.0,460.5" fill="none" stroke="#111" stroke-width="1.7"/>
<path d="M208.5,485.0 L267.0,464.5 L270.5,465.5 L271.5,469.5 L212.0,493.5 L208.5,492.0 L207.5,488.0Z" fill="none" stroke="#111" stroke-width="1.7"/>
<path d="M222.0,482.0 L224.0,488.0" fill="none" stroke="#111" stroke-width="1.7"/>
<path d="M234.5,477.5 L237.0,483.0" fill="none" stroke="#111" stroke-width="1.7"/>
<path d="M246.5,473.5 L249.0,478.5" fill="none" stroke="#111" stroke-width="1.7"/>
<path d="M258.5,469.0 L260.5,474.0" fill="none" stroke="#111" stroke-width="1.7"/>
<path d="M210.0,470.5 L228.0,464.0" fill="none" stroke="#111" stroke-width="1.7"/>
<path d="M180.0,515.0 C181.0,515.2 183.7,516.4 186.0,516.5 C188.3,516.6 190.7,516.4 194.0,515.5 C197.3,514.6 198.3,513.9 206.0,511.0 C213.7,508.1 228.7,502.3 240.0,498.0 C251.3,493.7 265.7,487.3 274.0,485.0 C282.3,482.7 285.0,484.6 290.0,484.0 C295.0,483.4 301.8,481.9 304.1,481.5" fill="none" stroke="#181818" stroke-width="1.15"/>
<path d="M194.0,514.0 C194.5,512.3 196.4,507.3 197.0,504.0 C197.6,500.7 197.8,497.7 197.5,494.0 C197.2,490.3 196.2,486.0 195.0,482.0 C193.8,478.0 191.2,473.0 190.0,470.0 C188.8,467.0 187.9,465.0 187.5,464.0" fill="none" stroke="#181818" stroke-width="1.15"/>
<path d="M180.0,499.0 C180.5,498.8 182.2,499.0 183.0,498.0 C183.8,497.0 184.8,496.2 185.0,493.0 C185.2,489.8 184.7,483.8 184.0,479.0 C183.3,474.2 181.5,466.5 181.0,464.0" fill="none" stroke="#181818" stroke-width="1.15"/>
<path d="M206.5,512.0 C206.2,513.0 206.1,516.4 205.0,518.0 C203.9,519.6 203.0,519.8 200.0,521.5 C197.0,523.2 189.2,526.9 187.0,528.0" fill="none" stroke="#181818" stroke-width="1.15"/>
<path d="M180.0,511.0 L187.0,532.0" fill="none" stroke="#181818" stroke-width="1.15"/>
<path d="M232.5,511.0 C233.4,513.0 236.1,519.3 238.0,523.0 C239.9,526.7 242.6,531.2 244.0,533.0 C245.4,534.8 244.8,534.2 246.5,533.5 C248.2,532.8 253.2,529.9 254.5,528.5 C255.8,527.1 255.1,527.8 254.0,525.0 C252.9,522.2 250.1,516.0 248.0,512.0 C245.9,508.0 242.6,502.8 241.5,501.0" fill="none" stroke="#181818" stroke-width="1.15"/>
<path d="M271.5,489.0 C271.4,490.3 270.9,494.7 271.0,497.0 C271.1,499.3 270.8,500.5 272.0,503.0 C273.2,505.5 276.3,509.9 278.0,512.0 C279.7,514.1 280.7,514.9 282.0,515.5 C283.3,516.1 282.7,516.9 286.0,515.5 C289.3,514.1 299.0,509.2 302.0,507.0 C305.0,504.8 303.8,502.8 304.1,502.0" fill="none" stroke="#181818" stroke-width="1.15"/>
<path d="M299.5,484.5 C300.2,485.9 302.7,490.8 303.5,493.0 C304.3,495.2 304.0,497.2 304.1,498.0" fill="none" stroke="#181818" stroke-width="1.15"/>
<path d="M281.0,464.0 C281.2,465.7 281.5,471.4 282.0,474.0 C282.5,476.6 283.2,478.2 284.0,479.5 C284.8,480.8 286.5,481.2 287.0,481.5" fill="none" stroke="#181818" stroke-width="1.15"/>
<path d="M281.0,467.0 C282.5,467.7 287.0,469.9 290.0,471.0 C293.0,472.1 297.5,473.1 299.0,473.5" fill="none" stroke="#181818" stroke-width="1.15"/>
<path d="M294.0,464.0 C295.0,465.7 298.3,471.5 300.0,474.0 C301.7,476.5 303.4,478.2 304.1,479.0" fill="none" stroke="#181818" stroke-width="1.15"/>
<path d="M282.0,551.1 C283.3,550.2 286.3,547.9 290.0,546.0 C293.7,544.1 301.8,541.0 304.1,540.0" fill="none" stroke="#181818" stroke-width="1.15"/>
<path d="M300.0,548.5 L302.5,551.1" fill="none" stroke="#181818" stroke-width="1.15"/>
<path d="M304.0,479.0 C305.3,480.5 308.7,484.8 312.0,488.0 C315.3,491.2 319.5,495.0 324.0,498.0 C328.5,501.0 334.0,503.9 339.0,506.0 C344.0,508.1 349.2,509.5 354.0,510.5 C358.8,511.5 363.7,512.2 368.0,512.0 C372.3,511.8 375.7,510.8 380.0,509.5 C384.3,508.2 389.2,506.1 394.0,504.0 C398.8,501.9 403.3,499.7 409.0,497.0 C414.7,494.3 424.9,489.5 428.1,488.0" fill="none" stroke="#181818" stroke-width="1.15"/>
<path d="M313.0,464.0 C314.0,465.2 316.3,468.2 319.0,471.0 C321.7,473.8 325.2,478.0 329.0,481.0 C332.8,484.0 337.8,486.8 342.0,489.0 C346.2,491.2 350.7,492.8 354.0,494.0 C357.3,495.2 359.5,496.5 362.0,496.5 C364.5,496.5 366.3,495.6 369.0,494.0 C371.7,492.4 376.5,488.2 378.0,487.0" fill="none" stroke="#181818" stroke-width="1.15"/>
<path d="M322.0,474.5 C324.8,473.8 333.0,471.7 339.0,470.0 C345.0,468.3 354.8,465.4 358.0,464.5" fill="none" stroke="#181818" stroke-width="1.15"/>
<path d="M354.0,473.0 C354.8,474.8 357.4,480.3 359.0,484.0 C360.6,487.7 362.8,493.2 363.5,495.0" fill="none" stroke="#181818" stroke-width="1.15"/>
<path d="M358.0,464.5 L366.0,473.0 L378.0,486.5 L381.0,487.5 L391.0,491.0 L411.5,482.0 L411.5,470.0 L410.0,464.0" fill="none" stroke="#181818" stroke-width="1.15"/>
<path d="M373.0,464.0 C374.5,466.2 379.2,473.0 382.0,477.0 C384.8,481.0 388.7,486.2 390.0,488.0" fill="none" stroke="#181818" stroke-width="1.15"/>
<path d="M380.0,464.0 L387.0,474.0 L390.0,479.0 L393.0,480.5 L407.0,473.5 L407.5,464.0" fill="none" stroke="#181818" stroke-width="1.15"/>
<path d="M388.0,475.5 C389.0,475.0 391.3,472.8 394.0,472.5 C396.7,472.2 402.3,473.3 404.0,473.5" fill="none" stroke="#181818" stroke-width="1.15"/>
<path d="M392.0,464.0 C392.3,464.8 393.8,467.6 394.0,469.0 C394.2,470.4 393.6,471.9 393.5,472.5" fill="none" stroke="#181818" stroke-width="1.15"/>
<path d="M311.0,487.0 C312.3,487.1 316.5,487.8 319.0,487.5 C321.5,487.2 324.2,485.8 326.0,485.0 C327.8,484.2 328.9,482.9 329.5,482.5" fill="none" stroke="#181818" stroke-width="1.15"/>
<path d="M411.5,470.0 C412.8,469.8 416.2,469.8 419.0,469.0 C421.8,468.2 426.6,465.7 428.1,465.0" fill="none" stroke="#181818" stroke-width="1.15"/>
<path d="M331.5,505.0 C332.8,507.2 336.8,514.3 339.0,518.0 C341.2,521.7 343.2,525.1 345.0,527.0 C346.8,528.9 348.2,529.3 350.0,529.5 C351.8,529.7 352.8,529.0 356.0,528.0 C359.2,527.0 366.2,524.2 369.0,523.5 C371.8,522.8 370.5,522.2 373.0,524.0 C375.5,525.8 379.8,530.3 384.0,534.0 C388.2,537.7 396.1,544.0 398.5,546.0" fill="none" stroke="#181818" stroke-width="1.15"/>
<path d="M344.5,510.0 L350.0,526.5" fill="none" stroke="#181818" stroke-width="1.15"/>
<path d="M304.0,541.0 C308.5,538.9 326.0,530.4 331.0,528.5 C336.0,526.6 332.2,528.4 334.0,529.5 C335.8,530.6 339.7,533.7 342.0,535.0 C344.3,536.3 346.0,537.2 348.0,537.5 C350.0,537.8 351.3,537.9 354.0,537.0 C356.7,536.1 361.5,532.8 364.0,532.0 C366.5,531.2 367.0,531.3 369.0,532.5 C371.0,533.7 373.5,536.6 376.0,539.0 C378.5,541.4 382.4,545.0 384.0,547.0 C385.6,549.0 385.2,550.4 385.5,551.1" fill="none" stroke="#181818" stroke-width="1.15"/>
<path d="M314.0,542.5 L322.0,551.1" fill="none" stroke="#181818" stroke-width="1.15"/>
<path d="M330.0,536.0 L344.0,551.1" fill="none" stroke="#181818" stroke-width="1.15"/>
<path d="M354.5,539.5 L365.0,551.1" fill="none" stroke="#181818" stroke-width="1.15"/>
<path d="M396.0,509.5 C397.3,510.9 401.0,515.4 404.0,518.0 C407.0,520.6 410.3,522.5 414.0,525.0 C417.7,527.5 424.0,531.7 426.0,533.0" fill="none" stroke="#181818" stroke-width="1.15"/>
<path d="M392.0,551.1 L428.1,533.0" fill="none" stroke="#181818" stroke-width="1.15"/>
<path d="M537.0,495.5 L544.5,490.5 L550.5,498.5 L543.0,503.5Z" fill="none" stroke="#111" stroke-width="1.7"/>
<path d="M462.5,464.0 C462.6,465.0 461.8,467.7 463.0,470.0 C464.2,472.3 466.8,475.3 470.0,478.0 C473.2,480.7 477.7,483.8 482.0,486.0 C486.3,488.2 491.2,489.8 496.0,491.0 C500.8,492.2 506.0,493.2 511.0,493.5 C516.0,493.8 521.5,493.2 526.0,492.5 C530.5,491.8 534.8,490.6 538.0,489.0 C541.2,487.4 543.5,485.2 545.0,483.0 C546.5,480.8 546.9,478.3 547.0,476.0 C547.1,473.7 545.8,470.2 545.5,469.0" fill="none" stroke="#181818" stroke-width="1.15"/>
<path d="M474.0,464.0 C474.3,465.2 474.7,468.8 476.0,471.0 C477.3,473.2 479.3,475.0 482.0,477.0 C484.7,479.0 488.3,481.6 492.0,483.0 C495.7,484.4 499.7,485.2 504.0,485.5 C508.3,485.8 513.7,485.2 518.0,484.5 C522.3,483.8 526.8,482.6 530.0,481.0 C533.2,479.4 535.7,476.8 537.0,475.0 C538.3,473.2 537.8,470.8 538.0,470.0" fill="none" stroke="#181818" stroke-width="1.15"/>
<path d="M480.0,464.0 C480.3,465.0 480.7,468.2 482.0,470.0 C483.3,471.8 485.3,473.3 488.0,475.0 C490.7,476.7 494.3,478.7 498.0,480.0 C501.7,481.3 506.0,482.4 510.0,483.0 C514.0,483.6 520.0,483.4 522.0,483.5" fill="none" stroke="#181818" stroke-width="1.15"/>
<path d="M486.0,464.0 C486.7,464.7 487.0,465.8 490.0,468.0 C493.0,470.2 501.0,475.2 504.0,477.0 C507.0,478.8 506.9,478.6 508.0,478.5 C509.1,478.4 512.2,478.4 510.5,476.5 C508.8,474.6 500.8,469.1 498.0,467.0 C495.2,464.9 494.7,464.5 494.0,464.0" fill="none" stroke="#181818" stroke-width="1.15"/>
<path d="M511.0,464.0 C512.5,464.5 517.8,465.7 520.0,467.0 C522.2,468.3 522.7,470.7 524.0,472.0 C525.3,473.3 526.1,474.1 528.0,475.0 C529.9,475.9 534.2,477.4 535.5,477.5 C536.8,477.6 535.9,475.8 536.0,475.5" fill="none" stroke="#181818" stroke-width="1.15"/>
<path d="M518.0,468.0 C518.7,469.3 521.2,473.5 522.0,476.0 C522.8,478.5 522.8,481.8 523.0,483.0" fill="none" stroke="#181818" stroke-width="1.15"/>
<path d="M528.0,464.0 L538.0,470.0" fill="none" stroke="#181818" stroke-width="1.15"/>
<path d="M462.5,464.0 C462.9,466.0 463.6,471.7 465.0,476.0 C466.4,480.3 468.2,484.5 471.0,490.0 C473.8,495.5 477.2,501.8 482.0,509.0 C486.8,516.2 497.0,529.0 500.0,533.0" fill="none" stroke="#181818" stroke-width="1.15"/>
<path d="M471.0,464.0 C471.3,466.0 471.5,471.3 473.0,476.0 C474.5,480.7 476.8,486.0 480.0,492.0 C483.2,498.0 487.3,504.8 492.0,512.0 C496.7,519.2 505.3,531.2 508.0,535.0" fill="none" stroke="#181818" stroke-width="1.15"/>
<path d="M428.0,488.0 C429.3,486.8 433.5,483.5 436.0,481.0 C438.5,478.5 440.8,475.8 443.0,473.0 C445.2,470.2 448.0,465.5 449.0,464.0" fill="none" stroke="#181818" stroke-width="1.15"/>
<path d="M433.0,489.0 C434.2,490.5 436.7,494.7 440.0,498.0 C443.3,501.3 448.7,505.7 453.0,509.0 C457.3,512.3 461.9,515.5 466.0,518.0 C470.1,520.5 475.6,522.8 477.5,523.8" fill="none" stroke="#181818" stroke-width="1.15"/>
<path d="M428.0,533.0 C430.0,532.3 435.8,530.1 440.0,529.0 C444.2,527.9 448.3,527.0 453.0,526.5 C457.7,526.0 462.8,525.6 468.0,526.0 C473.2,526.4 478.7,527.7 484.0,529.0 C489.3,530.3 495.2,532.2 500.0,534.0 C504.8,535.8 508.5,537.3 513.0,540.0 C517.5,542.7 524.7,548.3 527.0,550.0" fill="none" stroke="#181818" stroke-width="1.15"/>
<path d="M432.5,535.5 C434.2,535.0 439.1,533.2 443.0,532.5 C446.9,531.8 451.3,531.2 456.0,531.2 C460.7,531.2 465.7,531.5 471.0,532.5 C476.3,533.5 482.5,535.1 488.0,537.0 C493.5,538.9 499.3,541.6 504.0,544.0 C508.7,546.4 514.0,549.9 516.0,551.1" fill="none" stroke="#181818" stroke-width="1.15"/>
<path d="M460.0,533.0 C461.3,534.5 465.5,539.0 468.0,542.0 C470.5,545.0 473.8,549.6 475.0,551.1" fill="none" stroke="#181818" stroke-width="1.15"/>
<path d="M519.0,500.0 C519.2,499.6 519.3,498.0 520.0,497.5 C520.7,497.0 520.8,495.2 523.0,497.0 C525.2,498.8 529.4,503.5 533.0,508.0 C536.6,512.5 542.6,521.2 544.5,523.8" fill="none" stroke="#181818" stroke-width="1.15"/>
<path d="M523.5,520.0 C524.9,521.5 528.8,526.0 532.0,529.0 C535.2,532.0 539.6,535.5 543.0,538.0 C546.4,540.5 550.6,543.0 552.1,544.0" fill="none" stroke="#181818" stroke-width="1.15"/>
<path d="M552.1,523.0 C551.2,523.5 548.4,524.7 547.0,526.0 C545.6,527.3 544.1,529.2 543.5,531.0 C542.9,532.8 543.5,536.0 543.5,537.0" fill="none" stroke="#181818" stroke-width="1.15"/>
<path d="M543.0,464.0 C543.5,465.0 544.5,467.8 546.0,470.0 C547.5,472.2 551.1,475.8 552.1,477.0" fill="none" stroke="#181818" stroke-width="1.15"/>
<path d="M549.0,480.0 L552.1,485.0" fill="none" stroke="#181818" stroke-width="1.15"/>
<path d="M545.5,469.0 L552.1,464.0" fill="none" stroke="#181818" stroke-width="1.15"/>
<path d="M392.4,377.9 C394.1,376.7 398.5,373.1 402.7,370.6 C406.9,368.0 414.0,364.3 417.4,362.7 C420.9,361.1 422.3,361.1 423.3,360.7" fill="none" stroke="#111" stroke-width="1.7"/>
<path d="M423.3,360.7 C424.5,361.6 428.1,364.0 430.2,366.1 C432.3,368.3 434.9,371.3 436.1,373.5 C437.3,375.7 437.6,377.6 437.6,379.4 C437.6,381.2 436.7,383.2 436.1,384.3 C435.5,385.5 434.5,386.0 434.1,386.3" fill="none" stroke="#181818" stroke-width="1.15"/>
<path d="M402.7,385.3 C405.1,384.0 412.7,380.1 417.4,377.4 C422.2,374.8 428.9,370.9 431.2,369.6" fill="none" stroke="#111" stroke-width="1.7"/>
<path d="M402.7,370.1 C403.0,371.1 403.7,374.4 404.7,376.4 C405.6,378.5 407.9,381.4 408.6,382.3" fill="none" stroke="#181818" stroke-width="1.15"/>
<path d="M414.5,364.7 C415.0,365.8 416.3,369.2 417.4,371.5 C418.6,373.8 420.7,377.3 421.4,378.4" fill="none" stroke="#181818" stroke-width="1.15"/>
<path d="M413.5,385.3 C414.0,384.7 415.5,382.5 416.4,381.9 C417.4,381.2 418.3,380.8 419.4,381.4 C420.5,381.9 422.7,384.6 423.3,385.3" fill="none" stroke="#181818" stroke-width="1.15"/>
<path d="M427.3,374.5 C427.6,375.3 428.2,377.8 429.2,379.4 C430.2,381.0 432.5,383.1 433.2,383.8" fill="none" stroke="#181818" stroke-width="1.15"/>
<path d="M421.9,378.9 C422.3,379.6 423.2,382.3 424.3,383.3 C425.4,384.4 427.6,385.0 428.2,385.3" fill="none" stroke="#181818" stroke-width="1.15"/>
<path d="M393.4,387.3 L414.5,386.8 L434.6,386.3" fill="none" stroke="#333" stroke-width="1.7"/>
<path d="M396.8,390.7 L414.5,389.2 L434.6,387.8" fill="none" stroke="#111" stroke-width="1.7"/>
<path d="M408.6,398.6 L414.5,405.9 L428.2,401.0 L438.1,398.1" fill="none" stroke="#111" stroke-width="1.7"/>
<path d="M438.1,398.1 C438.2,397.7 439.7,397.3 439.1,396.1 C438.4,395.0 435.0,392.0 434.1,391.2" fill="none" stroke="#181818" stroke-width="1.15"/>
<path d="M399.7,392.2 L414.5,391.2 L434.1,390.7" fill="none" stroke="#181818" stroke-width="1.15"/>
<path d="M428.2,392.2 L433.2,399.5" fill="none" stroke="#181818" stroke-width="1.15"/>
<path d="M438.1,398.1 C439.1,397.6 442.5,394.3 444.0,395.1 C445.4,395.9 446.6,401.3 446.9,403.0 C447.2,404.6 446.1,404.6 445.9,405.0" fill="none" stroke="#181818" stroke-width="1.15"/>
<path d="M445.9,405.0 L417.4,412.8 L415.5,409.9 L416.4,407.9 L442.0,401.0" fill="none" stroke="#181818" stroke-width="1.15"/>
<path d="M412.5,413.8 L445.9,404.0" fill="none" stroke="#181818" stroke-width="1.15"/>
<path d="M419.4,417.7 L440.0,411.8" fill="none" stroke="#181818" stroke-width="1.15"/>
<path d="M414.5,419.7 L444.0,410.8" fill="none" stroke="#181818" stroke-width="1.15"/>
<path d="M418.4,426.6 L428.2,422.6 L429.2,426.6 L420.4,430.5Z" fill="none" stroke="#111" stroke-width="1.7"/>
<path d="M428.2,429.5 L440.0,424.6" fill="none" stroke="#181818" stroke-width="1.15"/>
<path d="M440.0,426.6 C440.4,427.1 441.3,429.2 442.0,429.5 C442.7,429.8 444.0,430.8 444.5,428.5 C445.0,426.2 445.0,418.2 445.0,415.8 C444.9,413.3 444.1,414.1 444.0,413.8" fill="none" stroke="#111" stroke-width="1.7"/>
<path d="M422.3,355.8 C423.0,357.0 425.0,361.0 426.3,362.7 C427.6,364.4 429.6,365.6 430.2,366.1" fill="none" stroke="#181818" stroke-width="1.15"/>
<path d="M412.5,419.7 C412.2,420.3 411.0,421.7 410.6,423.6 C410.1,425.5 409.7,429.8 409.6,431.0" fill="none" stroke="#181818" stroke-width="1.15"/>
</g>
<path d="M178.6,532.2 L181.6,530.4 L185.6,529.6 L188.4,532.2 L194.0,546.6 L184.4,552.6Z" fill="none" stroke="#111" stroke-width="1.7"/>
<path d="M208.4,213.5 L208.4,485.0" fill="none" stroke="#fff" stroke-width="3.4"/>
<path d="M241.2,213.5 L241.2,447.4" fill="none" stroke="#fff" stroke-width="3.4"/>
<path d="M266.4,213.5 L266.4,425.0" fill="none" stroke="#fff" stroke-width="3.4"/>
<path d="M325.6,213.5 L325.6,425.0" fill="none" stroke="#fff" stroke-width="3.4"/>
<path d="M352.6,213.5 L352.6,406.4" fill="none" stroke="#fff" stroke-width="3.4"/>
<path d="M390.4,213.5 L390.4,396.0 L417.0,396.0" fill="none" stroke="#fff" stroke-width="3.4"/>
<path d="M419.6,213.5 L419.6,367.0" fill="none" stroke="#fff" stroke-width="3.4"/>
<path d="M441.2,213.5 L441.2,420.6" fill="none" stroke="#fff" stroke-width="3.4"/>
<path d="M457.6,213.5 L457.6,362.6" fill="none" stroke="#fff" stroke-width="3.4"/>
<path d="M486.4,213.5 L486.4,358.0" fill="none" stroke="#fff" stroke-width="3.4"/>
<path d="M496.4,213.5 L496.4,418.6" fill="none" stroke="#fff" stroke-width="3.4"/>
<path d="M540.6,213.5 L540.6,311.0" fill="none" stroke="#fff" stroke-width="3.4"/>
<path d="M187.3,606.3 L187.3,547.6" fill="none" stroke="#fff" stroke-width="3.4"/>
<path d="M455.6,596.4 L455.6,462.0" fill="none" stroke="#fff" stroke-width="3.4"/>
<path d="M741.7,412.7 L542.4,412.7 L542.4,497.0" fill="none" stroke="#fff" stroke-width="3.4"/>
<path d="M742.7,468.6 L572.0,468.6 L572.0,520.4" fill="none" stroke="#fff" stroke-width="3.4"/>
<path d="M744.6,497.4 L585.7,497.4 L585.7,556.0" fill="none" stroke="#fff" stroke-width="3.4"/>
<path d="M744.9,524.6 L604.5,524.6 L604.5,564.3" fill="none" stroke="#fff" stroke-width="3.4"/>
<path d="M208.4,213.5 L208.4,485.0" fill="none" stroke="#555" stroke-width="1.35"/>
<circle cx="208.4" cy="485.0" r="2.2" fill="#111"/>
<path d="M241.2,213.5 L241.2,447.4" fill="none" stroke="#555" stroke-width="1.35"/>
<circle cx="241.4" cy="447.4" r="2.2" fill="#111"/>
<path d="M266.4,213.5 L266.4,425.0" fill="none" stroke="#555" stroke-width="1.35"/>
<circle cx="266.8" cy="425.2" r="2.2" fill="#111"/>
<path d="M325.6,213.5 L325.6,425.0" fill="none" stroke="#555" stroke-width="1.35"/>
<circle cx="325.6" cy="425.0" r="2.2" fill="#111"/>
<path d="M352.6,213.5 L352.6,406.4" fill="none" stroke="#555" stroke-width="1.35"/>
<circle cx="352.6" cy="406.4" r="2.2" fill="#111"/>
<path d="M390.4,213.5 L390.4,396.0 L417.0,396.0" fill="none" stroke="#555" stroke-width="1.35"/>
<circle cx="417.0" cy="396.0" r="2.2" fill="#111"/>
<path d="M419.6,213.5 L419.6,367.0" fill="none" stroke="#555" stroke-width="1.35"/>
<circle cx="420.0" cy="367.0" r="2.2" fill="#111"/>
<path d="M441.2,213.5 L441.2,420.6" fill="none" stroke="#555" stroke-width="1.35"/>
<circle cx="441.2" cy="420.6" r="2.2" fill="#111"/>
<path d="M457.6,213.5 L457.6,362.6" fill="none" stroke="#555" stroke-width="1.35"/>
<circle cx="457.6" cy="362.6" r="2.2" fill="#111"/>
<path d="M486.4,213.5 L486.4,358.0" fill="none" stroke="#555" stroke-width="1.35"/>
<circle cx="486.4" cy="358.0" r="2.2" fill="#111"/>
<path d="M496.4,213.5 L496.4,418.6" fill="none" stroke="#555" stroke-width="1.35"/>
<circle cx="496.4" cy="418.6" r="2.2" fill="#111"/>
<path d="M540.6,213.5 L540.6,311.0" fill="none" stroke="#555" stroke-width="1.35"/>
<circle cx="540.6" cy="311.0" r="2.2" fill="#111"/>
<path d="M187.3,606.3 L187.3,547.6" fill="none" stroke="#555" stroke-width="1.35"/>
<circle cx="187.3" cy="547.6" r="2.2" fill="#111"/>
<path d="M455.6,596.4 L455.6,462.0" fill="none" stroke="#555" stroke-width="1.35"/>
<circle cx="455.6" cy="462.0" r="2.2" fill="#111"/>
<path d="M741.7,412.7 L542.4,412.7 L542.4,497.0" fill="none" stroke="#555" stroke-width="1.35"/>
<circle cx="542.4" cy="497.4" r="2.2" fill="#111"/>
<path d="M742.7,468.6 L572.0,468.6 L572.0,520.4" fill="none" stroke="#555" stroke-width="1.35"/>
<circle cx="572.0" cy="520.2" r="2.2" fill="#111"/>
<path d="M744.6,497.4 L585.7,497.4 L585.7,556.0" fill="none" stroke="#555" stroke-width="1.35"/>
<circle cx="585.9" cy="556.0" r="2.2" fill="#111"/>
<path d="M744.9,524.6 L604.5,524.6 L604.5,564.3" fill="none" stroke="#555" stroke-width="1.35"/>
<circle cx="604.5" cy="564.2" r="2.2" fill="#111"/>
<path d="M204.10,204.80 V190.50 H202.75 C201.90,192.20 199.30,193.50 197.90,194.05 V195.85 C199.40,195.30 201.20,194.40 202.25,193.50 V204.80 Z" fill="#141414"/>
<path d="M239.30,204.80 V190.50 H237.95 C237.10,192.20 234.50,193.50 233.10,194.05 V195.85 C234.60,195.30 236.40,194.40 237.45,193.50 V204.80 Z" fill="#141414"/>
<path d="M248.20,204.80 V190.50 H246.85 C246.00,192.20 243.40,193.50 242.00,194.05 V195.85 C243.50,195.30 245.30,194.40 246.35,193.50 V204.80 Z" fill="#141414"/>
<path d="M262.30,204.80 V190.50 H260.95 C260.10,192.20 257.50,193.50 256.10,194.05 V195.85 C257.60,195.30 259.40,194.40 260.45,193.50 V204.80 Z" fill="#141414"/>
<path d="M542.20,204.80 V190.50 H540.85 C540.00,192.20 537.50,193.50 536.10,194.05 V195.85 C537.60,195.30 539.30,194.40 540.35,193.50 V204.80 Z" fill="#141414"/>
<path d="M183.80,626.40 V612.10 H182.45 C181.60,613.80 179.00,615.10 177.60,615.65 V617.45 C179.10,616.90 180.90,616.00 181.95,615.10 V626.40 Z" fill="#141414"/>
<path d="M452.20,626.20 V611.90 H450.85 C450.00,613.60 447.40,614.90 446.00,615.45 V617.25 C447.50,616.70 449.30,615.80 450.35,614.90 V626.20 Z" fill="#141414"/>
<path d="M753.20,419.90 V405.60 H751.85 C751.00,407.30 748.40,408.60 747.00,409.15 V410.95 C748.50,410.40 750.30,409.50 751.35,408.60 V419.90 Z" fill="#141414"/>
<path d="M753.20,476.00 V461.70 H751.85 C751.00,463.40 748.40,464.70 747.00,465.25 V467.05 C748.50,466.50 750.30,465.60 751.35,464.70 V476.00 Z" fill="#141414"/>
<path d="M753.20,504.20 V489.90 H751.85 C751.00,491.60 748.40,492.90 747.00,493.45 V495.25 C748.50,494.70 750.30,493.80 751.35,492.90 V504.20 Z" fill="#141414"/>
<path d="M753.20,532.50 V518.20 H751.85 C751.00,519.90 748.40,521.20 747.00,521.75 V523.55 C748.50,523.00 750.30,522.10 751.35,521.20 V532.50 Z" fill="#141414"/>
<rect x="56.6" y="162.4" width="741.7" height="473.5" fill="none" stroke="#111" stroke-width="1.4"/>
</svg>
<div id="w">
<div class="t" style="left:96.80px;top:664.15px;font-size:14px;font-weight:normal;transform:scaleX(1.1384);"><span class="c">V</span>oorpassagiersairbag (<span class="c">P</span>.<span class="c">60</span>)</div>
<div class="t" style="left:96.80px;top:687.15px;font-size:14px;font-weight:normal;transform:scaleX(1.0832);"><span class="c">S</span>chakelhendel (<span class="c">P</span>.<span class="c">211</span>)</div>
<div class="t" style="left:96.80px;top:710.15px;font-size:14px;font-weight:normal;transform:scaleX(1.1099);"><span class="c">EV</span> modus schakelaar (<span class="c">P</span>.<span class="c">13</span>)</div>
<div class="t" style="left:96.80px;top:750.15px;font-size:14px;font-weight:normal;transform:scaleX(1.1095);">(<span class="c">P</span>.<span class="c">306</span>)</div>
<div class="t" style="left:482.80px;top:662.15px;font-size:14px;font-weight:normal;transform:scaleX(1.1367);"><span class="c">S</span>topcontact (<span class="c">P</span>.<span class="c">110</span>)</div>
<div class="t" style="left:482.80px;top:685.65px;font-size:14px;font-weight:normal;transform:scaleX(1.1228);"><span class="c">R</span>uitenwisser- en sproeierschakelaar (<span class="c">P</span>.<span class="c">101</span>)</div>
<div class="t" style="left:482.80px;top:709.15px;font-size:14px;font-weight:normal;transform:scaleX(1.1587);"><span class="c">S</span>chakelaars op het stuurwiel</div>
<div class="t" style="left:502.40px;top:732.15px;font-size:14px;font-weight:normal;transform:scaleX(1.1359);"><span class="c">P</span>ro<span class="c">PILOT</span> <span class="c">A</span>ssist-schakelaar<span class="a">*</span> (<span class="c">P</span>.<span class="c">242</span>)</div>
<div class="t" style="left:502.40px;top:755.15px;font-size:14px;font-weight:normal;transform:scaleX(1.1482);"><span class="c">C</span>ruise control <span class="a">*</span> (<span class="c">P</span>.<span class="c">237</span>)</div>
<div class="t" style="left:888.00px;top:121.15px;font-size:14px;font-weight:normal;transform:scaleX(1.1329);"><span class="c">S</span>nelheidsbegrenzer <span class="a">*</span> (<span class="c">P</span>.<span class="c">239</span>)</div>
<div class="t" style="left:869.00px;top:165.65px;font-size:14px;font-weight:normal;transform:scaleX(1.1405);">radio zonder <span class="c">N</span>issan<span class="c">C</span>onnect<span class="a">*</span> (<span class="c">P</span>.<span class="c">188</span>)</div>
<div class="t" style="left:869.00px;top:210.65px;font-size:14px;font-weight:normal;transform:scaleX(1.2094);">nect<span class="a">*</span> <span class="a">*</span><span class="a">*</span></div>
<div class="t" style="left:869.00px;top:235.65px;font-size:14px;font-weight:normal;transform:scaleX(1.1759);"><span class="c">S</span>tuurwiel</div>
<div class="t" style="left:888.00px;top:259.15px;font-size:14px;font-weight:normal;transform:scaleX(1.1571);"><span class="c">E</span>lektrische stuurbekrachtiging (<span class="c">P</span>.<span class="c">294</span>)</div>
<div class="t" style="left:888.00px;top:282.15px;font-size:14px;font-weight:normal;transform:scaleX(1.1103);"><span class="c">C</span>laxon (<span class="c">P</span>.<span class="c">108</span>)</div>
<div class="t" style="left:888.00px;top:305.15px;font-size:14px;font-weight:normal;transform:scaleX(1.1475);"><span class="c">B</span>estuurdersairbag (<span class="c">P</span>.<span class="c">60</span>)</div>
<div class="t" style="left:869.00px;top:327.65px;font-size:14px;font-weight:normal;transform:scaleX(1.1564);"><span class="c">S</span>chakelaars op het stuurwiel</div>
<div class="t" style="left:869.00px;top:372.65px;font-size:14px;font-weight:normal;transform:scaleX(0.9842);">(<span class="c">P</span>.<span class="c">81</span>)</div>
<div class="t" style="left:888.00px;top:397.15px;font-size:14px;font-weight:normal;transform:scaleX(1.1151);"><span class="c">A</span>udioschakelaars <span class="a">*</span> (<span class="c">P</span>.<span class="c">187</span>)</div>
<div class="t" style="left:869.00px;top:419.65px;font-size:14px;font-weight:normal;transform:scaleX(1.1438);"><span class="c">S</span>chakelaar koplampen en richtingaanwijzers</div>
<div class="t" style="left:869.00px;top:437.65px;font-size:14px;font-weight:normal;transform:scaleX(1.0714);">(<span class="c">P</span>.<span class="c">104</span>)</div>
<div class="t" style="left:869.00px;top:460.65px;font-size:14px;font-weight:normal;transform:scaleX(1.1337);"><span class="c">B</span>ovenste schakelpaneel</div>
<div class="t" style="left:869.00px;top:505.15px;font-size:14px;font-weight:normal;transform:scaleX(1.1330);">board (<span class="c">P</span>.<span class="c">68</span>)</div>
<div class="t" style="left:888.00px;top:530.15px;font-size:14px;font-weight:normal;transform:scaleX(1.1410);"><span class="c">S</span>chakelaar stuurverwarming (<span class="c">P</span>.<span class="c">109</span>)</div>
<div class="t" style="left:869.00px;top:574.15px;font-size:14px;font-weight:normal;transform:scaleX(1.0906);">(<span class="c">ILI</span>)<span class="a">*</span> (<span class="c">P</span>.<span class="c">233</span>)</div>
<div class="t" style="left:888.00px;top:599.15px;font-size:14px;font-weight:normal;transform:scaleX(1.1414);"><span class="c">S</span>tuurhulpschakelaar<span class="a">*</span> (<span class="c">P</span>.<span class="c">259</span>)</div>
<div class="t" style="left:869.00px;top:621.65px;font-size:14px;font-weight:normal;transform:scaleX(1.1410);"><span class="c">O</span>nderste schakelpaneel</div>
<div class="t" style="left:869.00px;top:665.65px;font-size:14px;font-weight:normal;transform:scaleX(1.0571);">(<span class="c">P</span>.<span class="c">108</span>)</div>
<div class="t" style="left:869.00px;top:690.65px;font-size:14px;font-weight:normal;transform:scaleX(1.1489);"><span class="c">M</span>otorkapontgrendelhendel (<span class="c">P</span>.<span class="c">134</span>)</div>
<div class="t" style="left:869.00px;top:713.65px;font-size:14px;font-weight:normal;transform:scaleX(1.1652);"><span class="c">C</span>ontactdrukknop (<span class="c">P</span>.<span class="c">207</span>)</div>
<div class="t" style="left:869.00px;top:753.65px;font-size:14px;font-weight:normal;transform:scaleX(1.1764);">remvasthoudfunctie<span class="a">*</span></div>
<div class="t" style="left:96.80px;top:733.15px;font-size:14px;font-weight:normal;transform:scaleX(1.1365);letter-spacing:0.281px;"><span class="c">S</span>chakelaar</div>
<div class="t" style="left:189.30px;top:733.15px;font-size:14px;font-weight:normal;transform:scaleX(1.1365);letter-spacing:0.560px;">waarschuwingsknipperlichten</div>
<div class="t" style="left:888.00px;top:144.15px;font-size:14px;font-weight:normal;transform:scaleX(1.1365);letter-spacing:0.175px;"><span class="c">I</span>ntegratie</div>
<div class="t" style="left:963.90px;top:144.15px;font-size:14px;font-weight:normal;transform:scaleX(1.0932);">mobiele</div>
<div class="t" style="left:1025.80px;top:144.15px;font-size:14px;font-weight:normal;transform:scaleX(1.1365);letter-spacing:0.109px;">telefoon</div>
<div class="t" style="left:1091.00px;top:144.15px;font-size:14px;font-weight:normal;transform:scaleX(1.1365);letter-spacing:-0.103px;">voor</div>
<div class="t" style="left:1129.30px;top:144.15px;font-size:14px;font-weight:normal;transform:scaleX(1.1365);letter-spacing:0.734px;"><span class="c">FM</span>/<span class="c">AM</span>-</div>
<div class="t" style="left:888.00px;top:190.15px;font-size:14px;font-weight:normal;transform:scaleX(1.1365);letter-spacing:0.000px;"><span class="c">M</span>obile</div>
<div class="t" style="left:938.50px;top:190.15px;font-size:14px;font-weight:normal;transform:scaleX(1.1365);letter-spacing:0.146px;">telefoonintegratie</div>
<div class="t" style="left:1067.40px;top:190.15px;font-size:14px;font-weight:normal;transform:scaleX(1.1365);letter-spacing:0.073px;">voor</div>
<div class="t" style="left:1103.80px;top:190.15px;font-size:14px;font-weight:normal;transform:scaleX(1.1365);letter-spacing:0.021px;"><span class="c">N</span>issan<span class="c">C</span>on-</div>
<div class="t" style="left:888.00px;top:350.65px;font-size:14px;font-weight:normal;transform:scaleX(1.1365);letter-spacing:0.433px;"><span class="c">S</span>chakelaars</div>
<div class="t" style="left:990.00px;top:350.65px;font-size:14px;font-weight:normal;transform:scaleX(1.1365);letter-spacing:0.675px;">voertuiginformatiedisplay</div>
<div class="t" style="left:888.00px;top:484.15px;font-size:14px;font-weight:normal;transform:scaleX(1.1365);letter-spacing:0.457px;"><span class="c">S</span>chakelaar</div>
<div class="t" style="left:981.70px;top:484.15px;font-size:14px;font-weight:normal;transform:scaleX(1.1365);letter-spacing:0.529px;">helderheidsregeling</div>
<div class="t" style="left:1141.50px;top:484.15px;font-size:14px;font-weight:normal;transform:scaleX(1.1365);letter-spacing:0.679px;">dash-</div>
<div class="t" style="left:888.00px;top:552.65px;font-size:14px;font-weight:normal;transform:scaleX(1.1365);letter-spacing:-0.179px;"><span class="c">S</span>chakelaar</div>
<div class="t" style="left:975.50px;top:552.65px;font-size:14px;font-weight:normal;transform:scaleX(1.1365);letter-spacing:0.168px;"><span class="c">I</span>ntelligent</div>
<div class="t" style="left:1055.80px;top:552.65px;font-size:14px;font-weight:normal;transform:scaleX(1.0920);"><span class="c">L</span>ane</div>
<div class="t" style="left:1099.20px;top:552.65px;font-size:14px;font-weight:normal;transform:scaleX(1.1365);letter-spacing:0.206px;"><span class="c">I</span>ntervention</div>
<div class="t" style="left:888.00px;top:644.65px;font-size:14px;font-weight:normal;transform:scaleX(1.1365);letter-spacing:0.154px;"><span class="c">S</span>chakelaar</div>
<div class="t" style="left:978.30px;top:644.65px;font-size:14px;font-weight:normal;transform:scaleX(1.1365);letter-spacing:0.358px;">koplamphoogteverstelling</div>
<div class="t" style="left:1181.30px;top:644.65px;font-size:14px;font-weight:normal;transform:scaleX(1.1365);"><span class="a">*</span></div>
<div class="t" style="left:869.00px;top:736.65px;font-size:14px;font-weight:normal;transform:scaleX(1.1365);letter-spacing:0.083px;"><span class="c">E</span>lektrische</div>
<div class="t" style="left:956.90px;top:736.65px;font-size:14px;font-weight:normal;transform:scaleX(1.1365);letter-spacing:0.329px;">parkeerrem<span class="a">*</span></div>
<div class="t" style="left:1057.30px;top:736.65px;font-size:14px;font-weight:normal;transform:scaleX(1.0784);">en</div>
<div class="t" style="left:1084.90px;top:736.65px;font-size:14px;font-weight:normal;transform:scaleX(1.1365);letter-spacing:0.412px;">automatische</div>
<div class="t" style="left:56.70px;top:40.57px;font-size:20px;font-weight:bold;transform:scaleX(1.1020);">BESTUURDERSPLAATS</div>
<div class="t" style="left:56.60px;top:130.12px;font-size:19px;font-weight:normal;transform:scaleX(0.9329);">LINKSE BESTURING</div>
<div class="t" style="left:56.80px;top:821.89px;font-size:16.2px;font-weight:normal;transform:scaleX(1.1435);">22</div>
<div class="t" style="left:96.00px;top:822.90px;font-size:15px;font-weight:bold;transform:scaleX(1.2441);">Geïllustreerde inhoudsopgave</div>
<div class="t" style="left:743.00px;top:620.91px;font-size:9.2px;font-weight:normal;transform:scaleX(1.1612);">MNIC4268</div>
<div class="t" style="left:58.30px;top:664.15px;font-size:14px;font-weight:normal;transform:scaleX(0.7070);"><span class="c">1</span>.</div>
<div class="t" style="left:58.30px;top:687.15px;font-size:14px;font-weight:normal;transform:scaleX(1.0512);"><span class="c">2</span>.</div>
<div class="t" style="left:58.30px;top:710.15px;font-size:14px;font-weight:normal;transform:scaleX(1.0512);"><span class="c">3</span>.</div>
<div class="t" style="left:58.30px;top:733.15px;font-size:14px;font-weight:normal;transform:scaleX(1.0791);"><span class="c">4</span>.</div>
<div class="t" style="left:445.20px;top:662.15px;font-size:14px;font-weight:normal;transform:scaleX(0.9767);"><span class="c">5</span>.</div>
<div class="t" style="left:445.20px;top:685.65px;font-size:14px;font-weight:normal;transform:scaleX(1.0047);"><span class="c">6</span>.</div>
<div class="t" style="left:445.20px;top:709.15px;font-size:14px;font-weight:normal;transform:scaleX(0.9581);"><span class="c">7</span>.</div>
<div class="t" style="left:831.30px;top:235.65px;font-size:14px;font-weight:normal;transform:scaleX(1.0791);"><span class="c">8</span>.</div>
<div class="t" style="left:831.30px;top:327.65px;font-size:14px;font-weight:normal;transform:scaleX(1.0512);"><span class="c">9</span>.</div>
<div class="t" style="left:831.30px;top:419.65px;font-size:14px;font-weight:normal;transform:scaleX(1.0231);"><span class="c">10</span>.</div>
<div class="t" style="left:831.30px;top:460.65px;font-size:14px;font-weight:normal;transform:scaleX(0.7678);"><span class="c">11</span>.</div>
<div class="t" style="left:831.30px;top:621.65px;font-size:14px;font-weight:normal;transform:scaleX(0.9776);"><span class="c">12</span>.</div>
<div class="t" style="left:831.30px;top:690.65px;font-size:14px;font-weight:normal;transform:scaleX(0.9776);"><span class="c">13</span>.</div>
<div class="t" style="left:831.30px;top:713.65px;font-size:14px;font-weight:normal;transform:scaleX(0.9890);"><span class="c">14</span>.</div>
<div class="t" style="left:831.30px;top:736.65px;font-size:14px;font-weight:normal;transform:scaleX(0.9435);"><span class="c">15</span>.</div>
<div class="t" style="left:205.56px;top:187.87px;font-size:20.0px;color:#141414;transform:scaleX(1.2321)">2</div>
<div class="t" style="left:264.05px;top:187.87px;font-size:20.0px;color:#141414;transform:scaleX(1.1797)">0</div>
<div class="t" style="left:320.67px;top:187.87px;font-size:20.0px;color:#141414;transform:scaleX(1.1300)">9</div>
<div class="t" style="left:345.94px;top:187.87px;font-size:20.0px;color:#141414;transform:scaleX(1.0547)">8</div>
<div class="t" style="left:383.67px;top:187.87px;font-size:20.0px;color:#141414;transform:scaleX(1.1221)">7</div>
<div class="t" style="left:414.79px;top:187.87px;font-size:20.0px;color:#141414;transform:scaleX(1.0988)">6</div>
<div class="t" style="left:436.07px;top:187.87px;font-size:20.0px;color:#141414;transform:scaleX(1.0322)">5</div>
<div class="t" style="left:451.49px;top:187.87px;font-size:20.0px;color:#141414;transform:scaleX(1.0100)">4</div>
<div class="t" style="left:479.91px;top:187.87px;font-size:20.0px;color:#141414;transform:scaleX(1.1071)">3</div>
<div class="t" style="left:492.18px;top:187.87px;font-size:20.0px;color:#141414;transform:scaleX(1.1111)">2</div>
<div class="t" style="left:185.55px;top:609.47px;font-size:20.0px;color:#141414;transform:scaleX(1.1816)">3</div>
<div class="t" style="left:454.35px;top:609.27px;font-size:20.0px;color:#141414;transform:scaleX(1.0900)">4</div>
<div class="t" style="left:754.84px;top:402.97px;font-size:20.0px;color:#141414;transform:scaleX(1.0451)">7</div>
<div class="t" style="left:754.65px;top:459.07px;font-size:20.0px;color:#141414;transform:scaleX(1.2402)">6</div>
<div class="t" style="left:754.96px;top:487.27px;font-size:20.0px;color:#141414;transform:scaleX(1.1692)">5</div>
<div class="t" style="left:754.81px;top:515.57px;font-size:20.0px;color:#141414;transform:scaleX(1.1946)">8</div>
<div class="t" style="left:371.2px;top:412.6px;width:26px;text-align:center;font-size:5.4px;font-weight:bold;letter-spacing:.7px;color:#222;transform:rotate(-21deg);transform-origin:50% 50%">NISSAN</div>
<div class="d" style="left:482.8px;top:739.4px"></div>
<div class="d" style="left:482.8px;top:762.4px"></div>
<div class="d" style="left:869.0px;top:128.4px"></div>
<div class="d" style="left:869.0px;top:151.4px"></div>
<div class="d" style="left:869.0px;top:197.4px"></div>
<div class="d" style="left:869.0px;top:266.4px"></div>
<div class="d" style="left:869.0px;top:289.4px"></div>
<div class="d" style="left:869.0px;top:312.4px"></div>
<div class="d" style="left:869.0px;top:357.9px"></div>
<div class="d" style="left:869.0px;top:404.4px"></div>
<div class="d" style="left:869.0px;top:491.4px"></div>
<div class="d" style="left:869.0px;top:537.4px"></div>
<div class="d" style="left:869.0px;top:559.9px"></div>
<div class="d" style="left:869.0px;top:606.4px"></div>
<div class="d" style="left:869.0px;top:651.9px"></div>
</div>
<div class="mk" style="left:652.5px;top:853px;width:9.2px;height:22px"></div>
<div class="mk" style="left:1047.5px;top:853px;width:11.8px;height:22px"></div>
</body></html>
